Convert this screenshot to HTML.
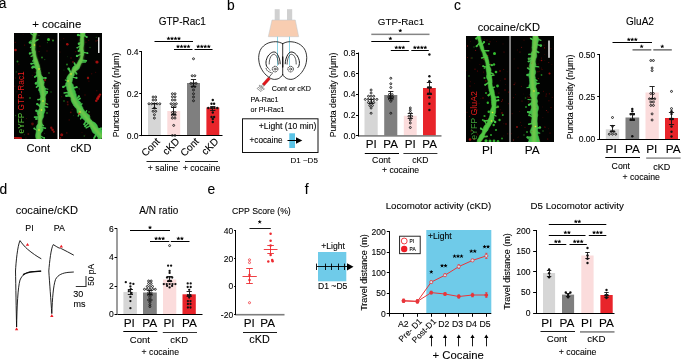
<!DOCTYPE html>
<html><head><meta charset="utf-8"><title>figure</title>
<style>html,body{margin:0;padding:0;background:#fff;}svg{display:block;font-family:"Liberation Sans",sans-serif;}</style></head><body>
<svg width="685" height="360" viewBox="0 0 685 360">
<defs><filter id="b1" x="-20%" y="-20%" width="140%" height="140%"><feGaussianBlur stdDeviation="0.7"/></filter><filter id="b2" x="-50%" y="-50%" width="200%" height="200%"><feGaussianBlur stdDeviation="0.9"/></filter><filter id="b3" x="-50%" y="-50%" width="200%" height="200%"><feGaussianBlur stdDeviation="0.55"/></filter><clipPath id="ca1"><rect x="14" y="33" width="43.5" height="106"/></clipPath><clipPath id="ca2"><rect x="59" y="33" width="43" height="106"/></clipPath><clipPath id="cc1"><rect x="466" y="36" width="43.5" height="106"/></clipPath><clipPath id="cc2"><rect x="510.5" y="36" width="43.5" height="106"/></clipPath></defs>
<rect width="685" height="360" fill="#fff"/>
<g opacity="0.999">
<text x="-1.3" y="7.8" font-size="13.8" text-anchor="start" fill="#000" stroke="#000" stroke-width="0.1">a</text>
<text x="227.1" y="9.6" font-size="13.8" text-anchor="start" fill="#000" stroke="#000" stroke-width="0.1">b</text>
<text x="453.9" y="9.6" font-size="13.8" text-anchor="start" fill="#000" stroke="#000" stroke-width="0.1">c</text>
<text x="-0.6" y="194" font-size="13.8" text-anchor="start" fill="#000" stroke="#000" stroke-width="0.1">d</text>
<text x="207.4" y="194" font-size="13.8" text-anchor="start" fill="#000" stroke="#000" stroke-width="0.1">e</text>
<text x="304.8" y="194" font-size="13.8" text-anchor="start" fill="#000" stroke="#000" stroke-width="0.1">f</text>
<text x="56.7" y="28" font-size="11.4" text-anchor="middle" fill="#000" stroke="#000" stroke-width="0.1">+ cocaine</text>
<rect x="14" y="33" width="43.5" height="106" fill="#020302" stroke="none" stroke-width="1"/>
<rect x="59" y="33" width="43" height="106" fill="#020302" stroke="none" stroke-width="1"/>
<g clip-path="url(#ca1)">
<g filter="url(#b1)">
<path d="M34.5,31.8 L34.0,32.8 L33.5,33.7 L33.3,34.7 L33.3,35.8 L33.2,36.8 L33.1,37.8 L32.8,38.9 L32.5,39.9 L32.3,40.9 L32.0,41.8 L31.8,42.9 L31.6,43.9 L31.8,45.0 L31.9,46.0 L32.1,47.1 L31.9,48.1 L31.8,49.1 L31.8,50.2 L32.1,51.2 L32.4,52.2 L32.7,53.2 L32.8,54.3 L33.1,55.3 L33.3,56.3 L33.6,57.3 L33.6,58.4 L33.5,59.5 L33.5,60.6 L33.6,61.7 L33.8,62.7 L34.1,63.7 L34.6,64.6 L34.8,65.6 L35.0,66.6 L35.0,67.6 L35.6,68.5 L36.4,69.3 L36.8,70.3 L36.7,71.3 L36.2,72.4 L36.3,73.4 L36.5,74.4 L37.0,75.4 L37.2,76.5 L37.5,77.5 L37.6,78.6 L37.4,79.8 L37.3,80.9 L37.1,82.0 L37.2,83.0 L37.2,84.1 L37.4,85.1 L38.0,85.9 L38.7,86.7 L39.1,87.6 L38.9,88.5 L38.6,89.5 L38.6,90.4 L39.3,91.3 L39.7,92.3 L40.1,93.2 L40.1,94.2 L40.5,95.1 L40.8,96.1 L40.7,97.1 L40.3,98.1 L40.0,99.0 L40.3,99.9 L40.5,100.8 L40.9,101.7 L40.7,102.6 L40.3,103.6 L39.7,104.5 L39.4,105.4 L39.7,106.5 L39.7,107.5 L39.6,108.6 L38.8,109.5 L38.3,110.5 L37.5,111.5 L37.1,112.5 L37.2,113.6 L37.5,114.7 L38.1,115.8 L38.5,116.9 L38.7,117.9 L38.8,118.9 L38.5,119.9 L38.3,120.9 L38.2,121.9 L38.2,122.9 L38.1,123.8 L37.4,124.7 L36.8,125.6 L36.3,126.5 L36.3,127.6 L36.5,128.6 L36.6,129.7 L36.5,130.7 L36.2,131.7 L36.1,132.8 L35.9,133.8 L35.7,134.8 L35.6,135.8 L35.7,136.8 L35.9,137.8 L36.3,138.8 L36.9,139.9 L42.3,140.3 L41.5,139.2 L41.0,138.2 L40.8,137.2 L40.7,136.2 L40.6,135.1 L40.7,134.2 L40.9,133.2 L41.6,132.3 L42.3,131.4 L42.9,130.5 L43.1,129.5 L42.8,128.5 L42.6,127.4 L42.2,126.3 L42.3,125.3 L42.1,124.2 L42.1,123.2 L41.7,122.1 L41.7,121.1 L41.9,120.1 L42.3,119.1 L42.9,118.2 L43.4,117.2 L43.7,116.3 L43.7,115.3 L43.7,114.3 L44.0,113.4 L44.4,112.6 L44.6,111.7 L45.1,110.8 L45.1,109.8 L44.8,108.7 L44.3,107.5 L44.3,106.5 L44.8,105.5 L45.1,104.5 L45.2,103.4 L45.1,102.3 L45.3,101.2 L45.4,100.1 L45.5,99.0 L45.2,98.0 L45.1,96.9 L45.4,95.9 L46.0,94.9 L46.2,93.8 L45.9,92.8 L45.3,91.8 L45.3,90.7 L45.5,89.7 L45.5,88.6 L44.9,87.6 L44.3,86.6 L43.7,85.6 L43.8,84.5 L44.0,83.3 L44.3,82.2 L43.8,81.2 L43.3,80.3 L42.8,79.3 L42.9,78.2 L42.7,77.2 L42.4,76.3 L41.5,75.5 L41.1,74.6 L40.8,73.7 L40.8,72.7 L40.5,71.7 L40.3,70.7 L40.0,69.7 L40.0,68.6 L39.7,67.6 L39.6,66.6 L39.3,65.5 L39.0,64.5 L38.5,63.5 L38.2,62.5 L37.9,61.5 L37.5,60.6 L37.2,59.6 L36.8,58.6 L36.4,57.7 L36.1,56.7 L35.9,55.7 L35.7,54.7 L35.5,53.8 L35.5,52.8 L35.5,51.8 L35.1,50.8 L34.7,49.9 L34.6,48.9 L34.8,47.9 L35.0,46.9 L34.9,46.0 L34.9,45.0 L34.8,44.1 L34.8,43.1 L34.8,42.1 L35.0,41.1 L35.0,40.1 L35.1,39.2 L35.1,38.2 L35.3,37.2 L35.5,36.2 L35.9,35.3 L36.3,34.3 L36.5,33.3 L36.2,32.2Z" fill="#41BE49" stroke="#41BE49" stroke-width="0.6" stroke-linejoin="round"/>
<line x1="34.9" y1="34.0" x2="32.0" y2="31.8" stroke="#41BE49" stroke-width="1.4" stroke-linecap="round"/>
<line x1="34.4" y1="36.0" x2="30.8" y2="33.6" stroke="#41BE49" stroke-width="1.2" stroke-linecap="round"/>
<line x1="33.6" y1="42.0" x2="38.0" y2="39.6" stroke="#41BE49" stroke-width="1.5" stroke-linecap="round"/>
<line x1="33.5" y1="43.0" x2="29.9" y2="42.6" stroke="#41BE49" stroke-width="1.4" stroke-linecap="round"/>
<circle cx="29.9" cy="42.6" r="1.23" fill="#41BE49"/>
<line x1="33.4" y1="46.0" x2="30.4" y2="47.5" stroke="#41BE49" stroke-width="1.1" stroke-linecap="round"/>
<line x1="33.9" y1="52.0" x2="29.9" y2="53.5" stroke="#41BE49" stroke-width="1.3" stroke-linecap="round"/>
<circle cx="29.9" cy="53.5" r="1.16" fill="#41BE49"/>
<line x1="34.4" y1="55.0" x2="31.1" y2="56.4" stroke="#41BE49" stroke-width="1.2" stroke-linecap="round"/>
<line x1="35.4" y1="59.0" x2="32.7" y2="61.1" stroke="#41BE49" stroke-width="1.4" stroke-linecap="round"/>
<line x1="36.6" y1="63.0" x2="31.3" y2="63.7" stroke="#41BE49" stroke-width="1.4" stroke-linecap="round"/>
<circle cx="31.3" cy="63.7" r="1.07" fill="#41BE49"/>
<line x1="37.5" y1="66.0" x2="32.4" y2="67.5" stroke="#41BE49" stroke-width="1.3" stroke-linecap="round"/>
<circle cx="32.4" cy="67.5" r="1.18" fill="#41BE49"/>
<line x1="37.9" y1="68.0" x2="33.3" y2="66.8" stroke="#41BE49" stroke-width="1.8" stroke-linecap="round"/>
<circle cx="33.3" cy="66.8" r="1.29" fill="#41BE49"/>
<line x1="39.0" y1="74.0" x2="34.8" y2="77.0" stroke="#41BE49" stroke-width="1.7" stroke-linecap="round"/>
<line x1="39.9" y1="78.0" x2="45.6" y2="78.1" stroke="#41BE49" stroke-width="1.5" stroke-linecap="round"/>
<circle cx="45.6" cy="78.1" r="1.12" fill="#41BE49"/>
<line x1="40.1" y1="79.0" x2="36.0" y2="83.4" stroke="#41BE49" stroke-width="1.2" stroke-linecap="round"/>
<circle cx="36.0" cy="83.4" r="1.28" fill="#41BE49"/>
<line x1="41.3" y1="83.0" x2="36.5" y2="87.1" stroke="#41BE49" stroke-width="1.7" stroke-linecap="round"/>
<line x1="42.4" y1="88.0" x2="47.9" y2="89.2" stroke="#41BE49" stroke-width="1.1" stroke-linecap="round"/>
<line x1="42.7" y1="91.0" x2="47.1" y2="91.9" stroke="#41BE49" stroke-width="1.8" stroke-linecap="round"/>
<circle cx="47.1" cy="91.9" r="0.98" fill="#41BE49"/>
<line x1="43.0" y1="95.0" x2="47.4" y2="93.0" stroke="#41BE49" stroke-width="1.3" stroke-linecap="round"/>
<line x1="43.1" y1="99.0" x2="38.1" y2="99.6" stroke="#41BE49" stroke-width="1.3" stroke-linecap="round"/>
<circle cx="38.1" cy="99.6" r="0.85" fill="#41BE49"/>
<line x1="43.0" y1="102.0" x2="47.7" y2="104.2" stroke="#41BE49" stroke-width="1.2" stroke-linecap="round"/>
<line x1="42.2" y1="106.0" x2="47.5" y2="107.0" stroke="#41BE49" stroke-width="1.6" stroke-linecap="round"/>
<line x1="41.8" y1="108.0" x2="37.3" y2="104.1" stroke="#41BE49" stroke-width="1.5" stroke-linecap="round"/>
<circle cx="37.3" cy="104.1" r="1.20" fill="#41BE49"/>
<line x1="40.9" y1="112.0" x2="36.4" y2="110.8" stroke="#41BE49" stroke-width="1.3" stroke-linecap="round"/>
<circle cx="36.4" cy="110.8" r="1.18" fill="#41BE49"/>
<line x1="40.4" y1="117.0" x2="34.6" y2="117.2" stroke="#41BE49" stroke-width="1.7" stroke-linecap="round"/>
<line x1="40.3" y1="119.0" x2="36.1" y2="118.9" stroke="#41BE49" stroke-width="1.4" stroke-linecap="round"/>
<circle cx="36.1" cy="118.9" r="1.00" fill="#41BE49"/>
<line x1="40.0" y1="123.0" x2="43.5" y2="125.7" stroke="#41BE49" stroke-width="1.4" stroke-linecap="round"/>
<line x1="39.6" y1="127.0" x2="45.5" y2="128.2" stroke="#41BE49" stroke-width="1.4" stroke-linecap="round"/>
<line x1="38.9" y1="132.0" x2="34.3" y2="128.5" stroke="#41BE49" stroke-width="1.4" stroke-linecap="round"/>
<circle cx="34.3" cy="128.5" r="0.93" fill="#41BE49"/>
<line x1="38.7" y1="135.0" x2="44.2" y2="138.0" stroke="#41BE49" stroke-width="1.3" stroke-linecap="round"/>
<circle cx="44.2" cy="138.0" r="0.94" fill="#41BE49"/>
<line x1="38.5" y1="137.0" x2="43.7" y2="140.2" stroke="#41BE49" stroke-width="1.3" stroke-linecap="round"/>
</g>
<path d="M35.3,32.0 L34.9,34.0 L34.4,36.0 L34.1,38.0 L33.8,40.0 L33.6,42.0 L33.4,44.0 L33.4,46.0 L33.5,48.0 L33.6,50.0 L33.9,52.0 L34.2,54.0 L34.6,56.0 L35.1,58.0 L35.7,60.0 L36.3,62.0 L36.9,64.0 L37.5,66.0 L37.9,68.0 L38.3,70.0 L38.7,72.0 L39.0,74.0 L39.4,76.0 L39.9,78.0 L40.4,80.0 L41.0,82.0 L41.5,84.0 L42.0,86.0 L42.4,88.0 L42.6,90.0 L42.8,92.0 L43.0,94.0 L43.1,96.0 L43.1,98.0 L43.1,100.0 L43.0,102.0 L42.6,104.0 L42.2,106.0 L41.8,108.0 L41.3,110.0 L40.9,112.0 L40.6,114.0 L40.5,116.0 L40.3,118.0 L40.2,120.0 L40.1,122.0 L40.0,124.0 L39.7,126.0 L39.4,128.0 L39.2,130.0 L38.9,132.0 L38.8,134.0 L38.6,136.0 L38.5,138.0 L38.3,140.0" fill="none" stroke="#76C84C" stroke-width="2.9" stroke-linecap="round" opacity="0.95" filter="url(#b2)"/>
<g filter="url(#b1)">
<circle cx="48.5" cy="39.5" r="1.5" fill="#35C932" opacity="0.9"/>
<circle cx="53" cy="40.5" r="1.0" fill="#35C932" opacity="0.7"/>
<circle cx="31" cy="41" r="1.0" fill="#35C932" opacity="0.6"/>
<circle cx="17.5" cy="61.5" r="1.0" fill="#35C932" opacity="0.6"/>
<circle cx="42" cy="57.5" r="1.0" fill="#35C932" opacity="0.6"/>
<circle cx="49" cy="73" r="0.9" fill="#35C932" opacity="0.5"/>
<circle cx="30" cy="98" r="1.0" fill="#35C932" opacity="0.5"/>
<circle cx="47" cy="113" r="0.9" fill="#35C932" opacity="0.5"/>
<circle cx="51" cy="92" r="0.8" fill="#35C932" opacity="0.4"/>
<circle cx="44.5" cy="133.3" r="0.49" fill="#35C932" opacity="0.4"/>
<circle cx="16.3" cy="71.9" r="0.67" fill="#35C932" opacity="0.4"/>
<circle cx="47.4" cy="42.6" r="0.54" fill="#35C932" opacity="0.47"/>
<circle cx="39.3" cy="80.9" r="0.56" fill="#35C932" opacity="0.5"/>
<circle cx="38.9" cy="35.4" r="0.72" fill="#35C932" opacity="0.33"/>
<circle cx="32.9" cy="55.9" r="0.58" fill="#35C932" opacity="0.33"/>
<circle cx="18.3" cy="99.6" r="0.44" fill="#35C932" opacity="0.45"/>
<circle cx="15.6" cy="115.5" r="0.72" fill="#35C932" opacity="0.37"/>
<circle cx="44.7" cy="59.6" r="0.7" fill="#35C932" opacity="0.36"/>
<circle cx="24.3" cy="134.7" r="0.56" fill="#35C932" opacity="0.34"/>
</g>
<g filter="url(#b3)">
<circle cx="15.5" cy="50" r="1.3" fill="#E01515" opacity="0.72"/>
<circle cx="45" cy="80" r="1.2" fill="#E01515" opacity="0.48"/>
<circle cx="32.5" cy="124" r="1.4" fill="#E01515" opacity="0.40"/>
<circle cx="51.3" cy="127.8" r="1.2" fill="#E01515" opacity="0.56"/>
<circle cx="52.6" cy="129.8" r="1.3" fill="#E01515" opacity="0.64"/>
<circle cx="53.8" cy="131.8" r="1.1" fill="#E01515" opacity="0.56"/>
<line x1="14.5" y1="137.6" x2="21" y2="138.3" stroke="#E01515" stroke-width="2.2" stroke-linecap="round" opacity="0.80" filter="url(#b1)"/>
<circle cx="28.3" cy="134" r="1.0" fill="#E01515" opacity="0.32"/>
<circle cx="45.8" cy="104" r="0.9" fill="#E01515" opacity="0.32"/>
<circle cx="21" cy="98" r="0.9" fill="#E01515" opacity="0.28"/>
<circle cx="47" cy="51" r="0.8" fill="#E01515" opacity="0.24"/>
<circle cx="24" cy="78" r="0.8" fill="#E01515" opacity="0.24"/>
<circle cx="34.2" cy="72.7" r="0.46" fill="#E01515" opacity="0.38"/>
<circle cx="14.8" cy="86.3" r="0.76" fill="#E01515" opacity="0.22"/>
<circle cx="38.1" cy="98.2" r="0.42" fill="#E01515" opacity="0.27"/>
<circle cx="44.4" cy="81.0" r="0.69" fill="#E01515" opacity="0.23"/>
<circle cx="24.6" cy="45.1" r="0.6" fill="#E01515" opacity="0.38"/>
<circle cx="39.6" cy="114.8" r="0.55" fill="#E01515" opacity="0.35"/>
<circle cx="18.8" cy="64.1" r="0.67" fill="#E01515" opacity="0.34"/>
<circle cx="32.4" cy="42.7" r="0.51" fill="#E01515" opacity="0.24"/>
<circle cx="26.5" cy="118.5" r="0.48" fill="#E01515" opacity="0.38"/>
<circle cx="51.9" cy="39.3" r="0.55" fill="#E01515" opacity="0.30"/>
<circle cx="15.5" cy="78.1" r="0.76" fill="#E01515" opacity="0.22"/>
<circle cx="39.9" cy="46.2" r="0.63" fill="#E01515" opacity="0.38"/>
<circle cx="23.1" cy="34.4" r="0.43" fill="#E01515" opacity="0.30"/>
<circle cx="15.2" cy="42.4" r="0.6" fill="#E01515" opacity="0.38"/>
<circle cx="32.4" cy="75.3" r="0.66" fill="#E01515" opacity="0.22"/>
<circle cx="39.1" cy="51.6" r="0.64" fill="#E01515" opacity="0.39"/>
<circle cx="16.8" cy="91.8" r="0.64" fill="#E01515" opacity="0.23"/>
<circle cx="25.9" cy="138.0" r="0.8" fill="#E01515" opacity="0.22"/>
</g>
<circle cx="34.5" cy="45" r="0.8" fill="#E8E830" filter="url(#b1)"/>
<circle cx="39" cy="69" r="0.8" fill="#E8E830" filter="url(#b1)"/>
<circle cx="43" cy="101" r="0.8" fill="#E8E830" filter="url(#b1)"/>
<circle cx="41.5" cy="110" r="0.8" fill="#E8E830" filter="url(#b1)"/>
<circle cx="39" cy="130" r="0.8" fill="#E8E830" filter="url(#b1)"/>
</g>
<g clip-path="url(#ca2)">
<g filter="url(#b1)">
<path d="M81.1,31.9 L80.7,32.8 L80.4,33.8 L80.5,34.8 L80.6,35.9 L80.7,36.9 L80.7,37.9 L80.4,38.9 L80.3,39.9 L80.3,40.9 L80.6,41.9 L80.7,42.9 L80.5,43.9 L80.1,45.0 L80.0,46.0 L79.8,47.0 L79.5,48.0 L79.4,49.0 L79.5,50.0 L80.1,51.0 L80.6,52.0 L80.9,53.0 L80.9,54.0 L80.9,55.0 L80.9,55.9 L80.8,56.9 L80.5,57.8 L80.0,58.7 L79.5,59.5 L78.9,60.2 L78.5,61.1 L78.0,62.0 L77.6,62.9 L77.1,63.8 L76.4,64.6 L75.6,65.3 L74.4,65.9 L73.3,66.6 L72.6,67.7 L72.2,69.0 L71.9,70.2 L71.6,71.4 L70.9,72.4 L70.2,73.3 L69.1,74.1 L68.4,75.1 L67.6,76.0 L67.1,77.1 L66.7,78.1 L66.8,79.3 L67.0,80.5 L66.8,81.7 L66.0,82.9 L65.6,84.1 L65.7,85.3 L66.4,86.4 L66.7,87.5 L66.8,88.6 L67.0,89.7 L67.7,90.7 L68.1,91.7 L67.9,92.9 L67.6,94.2 L68.1,95.2 L69.4,96.0 L70.5,96.7 L71.0,97.7 L71.2,98.8 L71.1,100.1 L71.5,101.2 L71.9,102.3 L72.5,103.3 L73.1,104.3 L73.5,105.4 L74.4,106.2 L74.9,107.2 L75.9,107.8 L76.5,108.7 L76.9,109.6 L77.0,110.9 L77.1,112.2 L77.6,113.2 L78.5,113.9 L79.5,114.5 L80.4,115.1 L80.8,116.2 L81.5,117.1 L82.0,118.0 L83.0,118.7 L83.7,119.6 L84.7,120.3 L85.3,121.2 L86.1,122.1 L87.0,122.8 L88.1,123.4 L89.1,124.1 L89.7,125.1 L90.0,126.3 L90.5,127.4 L90.9,128.4 L91.5,129.5 L91.9,130.6 L92.3,131.7 L93.0,132.7 L93.8,133.5 L95.0,134.1 L96.0,134.7 L96.7,135.6 L97.1,136.7 L97.8,137.4 L98.8,137.8 L99.4,138.6 L99.3,140.2 L104.8,134.7 L103.7,134.4 L102.9,133.8 L102.5,132.7 L102.3,131.5 L102.1,130.3 L101.6,129.5 L100.7,129.1 L99.5,128.9 L98.4,128.4 L97.9,127.3 L97.4,126.3 L97.0,125.1 L96.4,124.2 L95.7,123.3 L94.7,122.6 L93.6,122.1 L92.6,121.4 L91.8,120.6 L90.9,119.8 L90.2,118.9 L89.8,117.7 L89.8,116.3 L89.4,115.2 L88.5,114.4 L87.5,113.8 L86.6,113.0 L85.8,112.3 L85.1,111.4 L84.2,110.7 L83.8,109.7 L83.1,108.9 L82.9,107.7 L82.3,106.9 L81.9,106.0 L81.4,105.2 L80.9,104.3 L80.8,103.2 L80.6,102.3 L80.0,101.6 L78.9,101.1 L77.8,100.6 L77.2,99.6 L76.9,98.6 L76.6,97.6 L76.4,96.5 L76.3,95.4 L76.2,94.4 L75.8,93.4 L75.4,92.5 L75.3,91.5 L74.9,90.6 L74.4,89.8 L73.8,88.9 L73.8,88.0 L73.6,87.1 L73.5,86.2 L73.3,85.4 L73.1,84.6 L72.4,83.9 L72.0,83.2 L71.7,82.3 L72.1,81.6 L72.2,80.7 L72.6,79.8 L72.4,78.7 L72.7,77.8 L72.9,76.9 L73.7,76.2 L74.1,75.4 L74.2,74.4 L74.0,73.1 L74.3,72.0 L75.1,71.2 L76.3,70.6 L77.4,70.0 L78.5,69.2 L79.2,68.3 L79.7,67.1 L80.0,65.9 L80.4,64.7 L81.0,63.6 L81.4,62.5 L81.8,61.4 L82.1,60.3 L82.4,59.2 L82.5,58.2 L82.7,57.1 L83.0,56.1 L83.5,55.1 L83.7,54.0 L83.9,53.0 L83.8,52.0 L83.6,51.0 L83.2,50.0 L83.0,49.0 L83.1,48.0 L83.1,47.0 L83.4,46.0 L83.5,45.0 L83.8,44.1 L83.7,43.1 L83.8,42.1 L83.7,41.1 L83.7,40.1 L83.4,39.1 L83.4,38.1 L83.7,37.1 L84.4,36.2 L84.7,35.2 L84.9,34.2 L85.1,33.2 L85.6,32.2Z" fill="#41BE49" stroke="#41BE49" stroke-width="0.6" stroke-linejoin="round"/>
<line x1="82.5" y1="34.0" x2="86.7" y2="37.0" stroke="#41BE49" stroke-width="1.3" stroke-linecap="round"/>
<circle cx="86.7" cy="37.0" r="1.05" fill="#41BE49"/>
<line x1="82.4" y1="36.0" x2="78.1" y2="35.0" stroke="#41BE49" stroke-width="1.4" stroke-linecap="round"/>
<circle cx="78.1" cy="35.0" r="1.26" fill="#41BE49"/>
<line x1="82.0" y1="42.0" x2="78.9" y2="43.7" stroke="#41BE49" stroke-width="1.7" stroke-linecap="round"/>
<circle cx="78.9" cy="43.7" r="1.19" fill="#41BE49"/>
<line x1="81.8" y1="45.0" x2="77.2" y2="47.8" stroke="#41BE49" stroke-width="1.2" stroke-linecap="round"/>
<circle cx="77.2" cy="47.8" r="0.81" fill="#41BE49"/>
<line x1="81.8" y1="49.0" x2="78.7" y2="50.9" stroke="#41BE49" stroke-width="1.5" stroke-linecap="round"/>
<circle cx="78.7" cy="50.9" r="1.15" fill="#41BE49"/>
<line x1="81.8" y1="52.0" x2="87.5" y2="53.2" stroke="#41BE49" stroke-width="1.2" stroke-linecap="round"/>
<circle cx="87.5" cy="53.2" r="0.90" fill="#41BE49"/>
<line x1="81.9" y1="54.0" x2="77.0" y2="55.9" stroke="#41BE49" stroke-width="1.3" stroke-linecap="round"/>
<circle cx="77.0" cy="55.9" r="1.18" fill="#41BE49"/>
<line x1="81.1" y1="60.0" x2="86.3" y2="60.9" stroke="#41BE49" stroke-width="1.7" stroke-linecap="round"/>
<line x1="80.3" y1="62.0" x2="85.5" y2="62.0" stroke="#41BE49" stroke-width="1.4" stroke-linecap="round"/>
<line x1="76.4" y1="67.6" x2="74.4" y2="63.1" stroke="#41BE49" stroke-width="1.7" stroke-linecap="round"/>
<line x1="74.1" y1="70.4" x2="76.6" y2="73.8" stroke="#41BE49" stroke-width="1.7" stroke-linecap="round"/>
<line x1="71.6" y1="74.1" x2="68.6" y2="68.7" stroke="#41BE49" stroke-width="1.8" stroke-linecap="round"/>
<circle cx="68.6" cy="68.7" r="1.23" fill="#41BE49"/>
<line x1="70.4" y1="77.0" x2="76.5" y2="77.9" stroke="#41BE49" stroke-width="1.2" stroke-linecap="round"/>
<circle cx="76.5" cy="77.9" r="1.10" fill="#41BE49"/>
<line x1="69.1" y1="82.0" x2="65.3" y2="79.9" stroke="#41BE49" stroke-width="1.1" stroke-linecap="round"/>
<line x1="69.0" y1="84.0" x2="63.3" y2="86.9" stroke="#41BE49" stroke-width="1.2" stroke-linecap="round"/>
<circle cx="63.3" cy="86.9" r="1.20" fill="#41BE49"/>
<line x1="69.8" y1="89.0" x2="76.7" y2="87.2" stroke="#41BE49" stroke-width="1.8" stroke-linecap="round"/>
<circle cx="76.7" cy="87.2" r="0.92" fill="#41BE49"/>
<line x1="70.7" y1="92.0" x2="64.1" y2="93.0" stroke="#41BE49" stroke-width="1.5" stroke-linecap="round"/>
<line x1="72.2" y1="96.0" x2="66.4" y2="95.8" stroke="#41BE49" stroke-width="1.7" stroke-linecap="round"/>
<circle cx="66.4" cy="95.8" r="1.27" fill="#41BE49"/>
<line x1="74.5" y1="101.0" x2="78.8" y2="96.4" stroke="#41BE49" stroke-width="1.5" stroke-linecap="round"/>
<circle cx="78.8" cy="96.4" r="1.13" fill="#41BE49"/>
<line x1="75.0" y1="102.0" x2="80.1" y2="98.5" stroke="#41BE49" stroke-width="1.7" stroke-linecap="round"/>
<line x1="77.8" y1="106.5" x2="82.0" y2="103.8" stroke="#41BE49" stroke-width="1.4" stroke-linecap="round"/>
<line x1="80.8" y1="110.7" x2="78.2" y2="116.1" stroke="#41BE49" stroke-width="1.4" stroke-linecap="round"/>
<line x1="83.5" y1="114.0" x2="80.6" y2="118.9" stroke="#41BE49" stroke-width="1.5" stroke-linecap="round"/>
<line x1="84.2" y1="114.9" x2="86.7" y2="110.7" stroke="#41BE49" stroke-width="1.3" stroke-linecap="round"/>
<line x1="87.0" y1="118.5" x2="84.3" y2="124.3" stroke="#41BE49" stroke-width="1.6" stroke-linecap="round"/>
<circle cx="84.3" cy="124.3" r="1.08" fill="#41BE49"/>
<line x1="89.8" y1="122.1" x2="85.2" y2="126.3" stroke="#41BE49" stroke-width="1.4" stroke-linecap="round"/>
<circle cx="85.2" cy="126.3" r="1.09" fill="#41BE49"/>
<line x1="91.9" y1="124.8" x2="86.2" y2="127.9" stroke="#41BE49" stroke-width="1.5" stroke-linecap="round"/>
<line x1="96.1" y1="130.2" x2="101.1" y2="128.2" stroke="#41BE49" stroke-width="1.7" stroke-linecap="round"/>
<line x1="97.5" y1="131.9" x2="94.0" y2="138.2" stroke="#41BE49" stroke-width="1.8" stroke-linecap="round"/>
<line x1="100.4" y1="134.9" x2="97.1" y2="140.8" stroke="#41BE49" stroke-width="1.2" stroke-linecap="round"/>
</g>
<path d="M82.7,32.0 L82.5,34.0 L82.4,36.0 L82.2,38.0 L82.1,40.0 L82.0,42.0 L81.9,44.0 L81.8,46.0 L81.8,48.0 L81.8,50.0 L81.8,52.0 L81.9,54.0 L81.8,56.0 L81.5,58.0 L81.1,60.0 L80.3,62.0 L79.2,63.9 L77.9,65.8 L76.4,67.6 L74.9,69.5 L73.4,71.4 L72.2,73.1 L71.2,75.0 L70.4,77.0 L69.8,79.0 L69.3,81.0 L69.0,83.0 L69.1,85.0 L69.4,87.0 L69.8,89.0 L70.4,91.0 L71.0,93.0 L71.8,95.0 L72.6,97.0 L73.5,99.0 L74.5,101.0 L75.5,103.0 L76.6,104.8 L77.8,106.5 L78.9,108.2 L80.2,109.8 L81.5,111.5 L82.8,113.2 L84.2,114.9 L85.6,116.7 L87.0,118.5 L88.4,120.3 L89.8,122.1 L91.2,123.9 L92.6,125.7 L94.0,127.5 L95.4,129.3 L96.8,131.1 L98.2,132.7 L99.6,134.1 L101.1,135.6 L102.5,137.0" fill="none" stroke="#76C84C" stroke-width="3.0" stroke-linecap="round" opacity="0.95" filter="url(#b2)"/>
<g filter="url(#b1)">
<circle cx="67" cy="64.5" r="1.0" fill="#35C932" opacity="0.6"/>
<circle cx="90" cy="47.5" r="0.8" fill="#35C932" opacity="0.4"/>
<circle cx="75" cy="74" r="0.8" fill="#35C932" opacity="0.4"/>
<circle cx="64" cy="101" r="0.9" fill="#35C932" opacity="0.4"/>
<circle cx="89" cy="112" r="0.9" fill="#35C932" opacity="0.5"/>
<circle cx="96.3" cy="37.3" r="0.64" fill="#35C932" opacity="0.4"/>
<circle cx="88.0" cy="76.2" r="0.43" fill="#35C932" opacity="0.3"/>
<circle cx="85.0" cy="52.5" r="0.43" fill="#35C932" opacity="0.34"/>
<circle cx="79.3" cy="89.7" r="0.41" fill="#35C932" opacity="0.44"/>
<circle cx="73.5" cy="115.7" r="0.4" fill="#35C932" opacity="0.49"/>
<circle cx="84.3" cy="136.0" r="0.79" fill="#35C932" opacity="0.46"/>
<circle cx="64.0" cy="70.1" r="0.49" fill="#35C932" opacity="0.44"/>
<circle cx="67.6" cy="56.7" r="0.44" fill="#35C932" opacity="0.28"/>
<circle cx="98.9" cy="136.0" r="0.55" fill="#35C932" opacity="0.44"/>
<circle cx="79.1" cy="88.3" r="0.55" fill="#35C932" opacity="0.41"/>
</g>
<g filter="url(#b3)">
<circle cx="67.3" cy="44.3" r="1.3" fill="#E01515" opacity="0.72"/>
<circle cx="97" cy="62" r="1.6" fill="#E01515" opacity="0.72"/>
<circle cx="88" cy="78" r="1.2" fill="#E01515" opacity="0.64"/>
<circle cx="73" cy="62" r="1.0" fill="#E01515" opacity="0.40"/>
<circle cx="71" cy="58" r="0.8" fill="#E01515" opacity="0.32"/>
<circle cx="96.3" cy="100.8" r="1.3" fill="#E01515" opacity="0.72"/>
<circle cx="97.6" cy="98.6" r="1.5" fill="#E01515" opacity="0.80"/>
<circle cx="98.8" cy="96.6" r="1.4" fill="#E01515" opacity="0.80"/>
<circle cx="100" cy="94.6" r="1.2" fill="#E01515" opacity="0.72"/>
<circle cx="67.6" cy="102" r="1.0" fill="#E01515" opacity="0.32"/>
<circle cx="67.8" cy="104.5" r="1.0" fill="#E01515" opacity="0.32"/>
<circle cx="70.8" cy="112.3" r="0.9" fill="#E01515" opacity="0.40"/>
<circle cx="79.2" cy="113.6" r="1.1" fill="#E01515" opacity="0.72"/>
<circle cx="61.7" cy="134.8" r="1.5" fill="#E01515" opacity="0.64"/>
<circle cx="60.3" cy="138" r="1.0" fill="#E01515" opacity="0.48"/>
<circle cx="96" cy="41" r="0.8" fill="#E01515" opacity="0.32"/>
<circle cx="85" cy="95" r="0.8" fill="#E01515" opacity="0.24"/>
<circle cx="95.6" cy="72.3" r="0.67" fill="#E01515" opacity="0.23"/>
<circle cx="94.9" cy="60.7" r="0.42" fill="#E01515" opacity="0.39"/>
<circle cx="66.8" cy="132.9" r="0.79" fill="#E01515" opacity="0.32"/>
<circle cx="60.0" cy="39.9" r="0.48" fill="#E01515" opacity="0.28"/>
<circle cx="85.2" cy="135.0" r="0.54" fill="#E01515" opacity="0.23"/>
<circle cx="83.1" cy="47.9" r="0.43" fill="#E01515" opacity="0.31"/>
<circle cx="88.7" cy="40.4" r="0.58" fill="#E01515" opacity="0.34"/>
<circle cx="91.6" cy="73.7" r="0.75" fill="#E01515" opacity="0.23"/>
<circle cx="89.5" cy="114.5" r="0.75" fill="#E01515" opacity="0.30"/>
<circle cx="63.7" cy="38.6" r="0.61" fill="#E01515" opacity="0.23"/>
<circle cx="85.9" cy="42.3" r="0.71" fill="#E01515" opacity="0.25"/>
<circle cx="60.0" cy="52.0" r="0.58" fill="#E01515" opacity="0.31"/>
<circle cx="75.8" cy="51.7" r="0.59" fill="#E01515" opacity="0.39"/>
<circle cx="82.0" cy="132.3" r="0.41" fill="#E01515" opacity="0.40"/>
<circle cx="96.8" cy="90.7" r="0.61" fill="#E01515" opacity="0.30"/>
<circle cx="97.7" cy="40.4" r="0.66" fill="#E01515" opacity="0.31"/>
<circle cx="72.1" cy="109.6" r="0.69" fill="#E01515" opacity="0.22"/>
<circle cx="88.9" cy="81.1" r="0.6" fill="#E01515" opacity="0.33"/>
<circle cx="61.7" cy="96.8" r="0.55" fill="#E01515" opacity="0.38"/>
<circle cx="69.2" cy="119.9" r="0.69" fill="#E01515" opacity="0.33"/>
</g>
<circle cx="71" cy="74" r="0.8" fill="#E8E830" filter="url(#b1)"/>
<circle cx="68" cy="81" r="0.8" fill="#E8E830" filter="url(#b1)"/>
<circle cx="80" cy="112" r="0.8" fill="#E8E830" filter="url(#b1)"/>
</g>
<rect x="98.1" y="37.3" width="1.35" height="15.7" fill="#fff" stroke="none" stroke-width="1"/>
<text transform="translate(23.7 133.4) rotate(-90)" font-size="8.3"><tspan fill="#5CC83F">eYFP</tspan><tspan fill="#EE1C1C"> GTP-Rac1</tspan></text>
<text x="38.3" y="152" font-size="11.1" text-anchor="middle" fill="#000" stroke="#000" stroke-width="0.1">Cont</text>
<text x="81" y="152" font-size="11.1" text-anchor="middle" fill="#000" stroke="#000" stroke-width="0.1">cKD</text>
<text x="182.3" y="25" font-size="10" text-anchor="middle" fill="#000" stroke="#000" stroke-width="0.1">GTP-Rac1</text>
<rect x="148" y="104.5" width="12.800000000000011" height="31.099999999999994" fill="#D6D6D6" stroke="none" stroke-width="1"/>
<rect x="167.3" y="111" width="12.899999999999977" height="24.599999999999994" fill="#FBDCDC" stroke="none" stroke-width="1"/>
<rect x="187" y="83" width="13" height="52.599999999999994" fill="#7F7F7F" stroke="none" stroke-width="1"/>
<rect x="206.4" y="107.5" width="12.900000000000006" height="28.099999999999994" fill="#E8242A" stroke="none" stroke-width="1"/>
<line x1="141.2" y1="135.5" x2="222.5" y2="135.5" stroke="#000" stroke-width="1"/>
<line x1="141.5" y1="136.1" x2="141.5" y2="51.0" stroke="#000" stroke-width="1"/>
<line x1="139.2" y1="51.5" x2="141.7" y2="51.5" stroke="#000" stroke-width="1"/>
<text x="138.6" y="54.5" font-size="8.55" text-anchor="end" fill="#000" stroke="#000" stroke-width="0.1">0.4</text>
<line x1="139.2" y1="93.5" x2="141.7" y2="93.5" stroke="#000" stroke-width="1"/>
<text x="138.6" y="96.5" font-size="8.55" text-anchor="end" fill="#000" stroke="#000" stroke-width="0.1">0.2</text>
<line x1="139.2" y1="135.5" x2="141.7" y2="135.5" stroke="#000" stroke-width="1"/>
<text x="138.6" y="138.6" font-size="8.55" text-anchor="end" fill="#000" stroke="#000" stroke-width="0.1">0.0</text>
<text x="119" y="95" font-size="8.7" text-anchor="middle" fill="#000" stroke="#000" stroke-width="0.1" transform="rotate(-90 119 95)">Puncta density (n/μm)</text>
<line x1="154.5" y1="41.5" x2="193" y2="41.5" stroke="#000" stroke-width="1.0"/>
<path d="M168.50,38.60L168.50,37.25M168.50,38.60L169.78,38.18M168.50,38.60L169.29,39.69M168.50,38.60L167.71,39.69M168.50,38.60L167.22,38.18" stroke="#000" stroke-width="0.85" stroke-linecap="round" fill="none"/>
<circle cx="168.50" cy="38.60" r="0.75" fill="#000" stroke="none" stroke-width="0.6"/>
<path d="M172.00,38.60L172.00,37.25M172.00,38.60L173.28,38.18M172.00,38.60L172.79,39.69M172.00,38.60L171.21,39.69M172.00,38.60L170.72,38.18" stroke="#000" stroke-width="0.85" stroke-linecap="round" fill="none"/>
<circle cx="172.00" cy="38.60" r="0.75" fill="#000" stroke="none" stroke-width="0.6"/>
<path d="M175.50,38.60L175.50,37.25M175.50,38.60L176.78,38.18M175.50,38.60L176.29,39.69M175.50,38.60L174.71,39.69M175.50,38.60L174.22,38.18" stroke="#000" stroke-width="0.85" stroke-linecap="round" fill="none"/>
<circle cx="175.50" cy="38.60" r="0.75" fill="#000" stroke="none" stroke-width="0.6"/>
<path d="M179.00,38.60L179.00,37.25M179.00,38.60L180.28,38.18M179.00,38.60L179.79,39.69M179.00,38.60L178.21,39.69M179.00,38.60L177.72,38.18" stroke="#000" stroke-width="0.85" stroke-linecap="round" fill="none"/>
<circle cx="179.00" cy="38.60" r="0.75" fill="#000" stroke="none" stroke-width="0.6"/>
<line x1="174" y1="49.5" x2="192.5" y2="49.5" stroke="#000" stroke-width="1.0"/>
<path d="M178.00,46.60L178.00,45.25M178.00,46.60L179.28,46.18M178.00,46.60L178.79,47.69M178.00,46.60L177.21,47.69M178.00,46.60L176.72,46.18" stroke="#000" stroke-width="0.85" stroke-linecap="round" fill="none"/>
<circle cx="178.00" cy="46.60" r="0.75" fill="#000" stroke="none" stroke-width="0.6"/>
<path d="M181.50,46.60L181.50,45.25M181.50,46.60L182.78,46.18M181.50,46.60L182.29,47.69M181.50,46.60L180.71,47.69M181.50,46.60L180.22,46.18" stroke="#000" stroke-width="0.85" stroke-linecap="round" fill="none"/>
<circle cx="181.50" cy="46.60" r="0.75" fill="#000" stroke="none" stroke-width="0.6"/>
<path d="M185.00,46.60L185.00,45.25M185.00,46.60L186.28,46.18M185.00,46.60L185.79,47.69M185.00,46.60L184.21,47.69M185.00,46.60L183.72,46.18" stroke="#000" stroke-width="0.85" stroke-linecap="round" fill="none"/>
<circle cx="185.00" cy="46.60" r="0.75" fill="#000" stroke="none" stroke-width="0.6"/>
<path d="M188.50,46.60L188.50,45.25M188.50,46.60L189.78,46.18M188.50,46.60L189.29,47.69M188.50,46.60L187.71,47.69M188.50,46.60L187.22,46.18" stroke="#000" stroke-width="0.85" stroke-linecap="round" fill="none"/>
<circle cx="188.50" cy="46.60" r="0.75" fill="#000" stroke="none" stroke-width="0.6"/>
<line x1="194.5" y1="49.5" x2="212.5" y2="49.5" stroke="#000" stroke-width="1.0"/>
<path d="M198.25,46.60L198.25,45.25M198.25,46.60L199.53,46.18M198.25,46.60L199.04,47.69M198.25,46.60L197.46,47.69M198.25,46.60L196.97,46.18" stroke="#000" stroke-width="0.85" stroke-linecap="round" fill="none"/>
<circle cx="198.25" cy="46.60" r="0.75" fill="#000" stroke="none" stroke-width="0.6"/>
<path d="M201.75,46.60L201.75,45.25M201.75,46.60L203.03,46.18M201.75,46.60L202.54,47.69M201.75,46.60L200.96,47.69M201.75,46.60L200.47,46.18" stroke="#000" stroke-width="0.85" stroke-linecap="round" fill="none"/>
<circle cx="201.75" cy="46.60" r="0.75" fill="#000" stroke="none" stroke-width="0.6"/>
<path d="M205.25,46.60L205.25,45.25M205.25,46.60L206.53,46.18M205.25,46.60L206.04,47.69M205.25,46.60L204.46,47.69M205.25,46.60L203.97,46.18" stroke="#000" stroke-width="0.85" stroke-linecap="round" fill="none"/>
<circle cx="205.25" cy="46.60" r="0.75" fill="#000" stroke="none" stroke-width="0.6"/>
<path d="M208.75,46.60L208.75,45.25M208.75,46.60L210.03,46.18M208.75,46.60L209.54,47.69M208.75,46.60L207.96,47.69M208.75,46.60L207.47,46.18" stroke="#000" stroke-width="0.85" stroke-linecap="round" fill="none"/>
<circle cx="208.75" cy="46.60" r="0.75" fill="#000" stroke="none" stroke-width="0.6"/>
<line x1="154.5" y1="103.6" x2="154.5" y2="108.0" stroke="#111" stroke-width="0.9"/>
<line x1="151.8" y1="103.5" x2="157.0" y2="103.5" stroke="#111" stroke-width="0.9"/>
<line x1="151.8" y1="108.5" x2="157.0" y2="108.5" stroke="#111" stroke-width="0.9"/>
<circle cx="153.10" cy="97.00" r="0.98" fill="none" stroke="#111" stroke-width="0.85"/>
<circle cx="155.70" cy="97.00" r="0.98" fill="none" stroke="#111" stroke-width="0.85"/>
<circle cx="153.10" cy="100.00" r="0.98" fill="none" stroke="#111" stroke-width="0.85"/>
<circle cx="155.70" cy="100.00" r="0.98" fill="none" stroke="#111" stroke-width="0.85"/>
<circle cx="149.00" cy="103.75" r="0.98" fill="none" stroke="#111" stroke-width="0.85"/>
<circle cx="151.70" cy="103.75" r="0.98" fill="none" stroke="#111" stroke-width="0.85"/>
<circle cx="154.40" cy="103.75" r="0.98" fill="none" stroke="#111" stroke-width="0.85"/>
<circle cx="157.10" cy="103.75" r="0.98" fill="none" stroke="#111" stroke-width="0.85"/>
<circle cx="159.80" cy="103.75" r="0.98" fill="none" stroke="#111" stroke-width="0.85"/>
<circle cx="153.10" cy="111.30" r="0.98" fill="none" stroke="#111" stroke-width="0.85"/>
<circle cx="155.70" cy="111.30" r="0.98" fill="none" stroke="#111" stroke-width="0.85"/>
<circle cx="154.40" cy="108.00" r="0.98" fill="none" stroke="#111" stroke-width="0.85"/>
<circle cx="154.40" cy="114.70" r="0.98" fill="none" stroke="#111" stroke-width="0.85"/>
<circle cx="154.40" cy="118.10" r="0.98" fill="none" stroke="#111" stroke-width="0.85"/>
<line x1="173.5" y1="107.39999999999999" x2="173.5" y2="114.2" stroke="#111" stroke-width="0.9"/>
<line x1="171.1" y1="107.5" x2="176.29999999999998" y2="107.5" stroke="#111" stroke-width="0.9"/>
<line x1="171.1" y1="114.5" x2="176.29999999999998" y2="114.5" stroke="#111" stroke-width="0.9"/>
<circle cx="172.40" cy="93.75" r="0.98" fill="none" stroke="#111" stroke-width="0.85"/>
<circle cx="175.00" cy="93.75" r="0.98" fill="none" stroke="#111" stroke-width="0.85"/>
<circle cx="172.40" cy="96.75" r="0.98" fill="none" stroke="#111" stroke-width="0.85"/>
<circle cx="175.00" cy="96.75" r="0.98" fill="none" stroke="#111" stroke-width="0.85"/>
<circle cx="172.40" cy="100.00" r="0.98" fill="none" stroke="#111" stroke-width="0.85"/>
<circle cx="175.00" cy="100.00" r="0.98" fill="none" stroke="#111" stroke-width="0.85"/>
<circle cx="171.10" cy="103.75" r="0.98" fill="none" stroke="#111" stroke-width="0.85"/>
<circle cx="173.70" cy="103.75" r="0.98" fill="none" stroke="#111" stroke-width="0.85"/>
<circle cx="176.30" cy="103.75" r="0.98" fill="none" stroke="#111" stroke-width="0.85"/>
<circle cx="172.40" cy="106.50" r="0.98" fill="none" stroke="#111" stroke-width="0.85"/>
<circle cx="175.00" cy="106.50" r="0.98" fill="none" stroke="#111" stroke-width="0.85"/>
<circle cx="172.40" cy="112.50" r="0.98" fill="none" stroke="#111" stroke-width="0.85"/>
<circle cx="175.00" cy="112.50" r="0.98" fill="none" stroke="#111" stroke-width="0.85"/>
<circle cx="172.40" cy="115.20" r="0.98" fill="none" stroke="#111" stroke-width="0.85"/>
<circle cx="175.00" cy="115.20" r="0.98" fill="none" stroke="#111" stroke-width="0.85"/>
<circle cx="172.40" cy="118.10" r="0.98" fill="none" stroke="#111" stroke-width="0.85"/>
<circle cx="175.00" cy="118.10" r="0.98" fill="none" stroke="#111" stroke-width="0.85"/>
<circle cx="173.70" cy="125.40" r="0.98" fill="none" stroke="#111" stroke-width="0.85"/>
<circle cx="172.40" cy="135.40" r="1.2" fill="#111" stroke="none" stroke-width="0.6"/>
<circle cx="175.00" cy="135.40" r="1.2" fill="#111" stroke="none" stroke-width="0.6"/>
<line x1="193.5" y1="79.89999999999999" x2="193.5" y2="86.7" stroke="#111" stroke-width="0.9"/>
<line x1="190.9" y1="79.5" x2="196.1" y2="79.5" stroke="#111" stroke-width="0.9"/>
<line x1="190.9" y1="86.5" x2="196.1" y2="86.5" stroke="#111" stroke-width="0.9"/>
<circle cx="193.50" cy="58.75" r="0.98" fill="none" stroke="#111" stroke-width="0.85"/>
<circle cx="192.20" cy="75.75" r="0.98" fill="none" stroke="#111" stroke-width="0.85"/>
<circle cx="194.80" cy="75.75" r="0.98" fill="none" stroke="#111" stroke-width="0.85"/>
<circle cx="190.90" cy="83.30" r="0.98" fill="none" stroke="#111" stroke-width="0.85"/>
<circle cx="193.50" cy="83.30" r="0.98" fill="none" stroke="#111" stroke-width="0.85"/>
<circle cx="196.10" cy="83.30" r="0.98" fill="none" stroke="#111" stroke-width="0.85"/>
<circle cx="192.20" cy="86.75" r="0.98" fill="none" stroke="#111" stroke-width="0.85"/>
<circle cx="194.80" cy="86.75" r="0.98" fill="none" stroke="#111" stroke-width="0.85"/>
<circle cx="193.50" cy="90.00" r="0.98" fill="none" stroke="#111" stroke-width="0.85"/>
<circle cx="193.50" cy="93.75" r="0.98" fill="none" stroke="#111" stroke-width="0.85"/>
<circle cx="193.50" cy="97.00" r="0.98" fill="none" stroke="#111" stroke-width="0.85"/>
<circle cx="193.50" cy="100.75" r="0.98" fill="none" stroke="#111" stroke-width="0.85"/>
<line x1="212.5" y1="106.75" x2="212.5" y2="110.75" stroke="#111" stroke-width="0.9"/>
<line x1="210.20000000000002" y1="106.5" x2="215.4" y2="106.5" stroke="#111" stroke-width="0.9"/>
<line x1="210.20000000000002" y1="110.5" x2="215.4" y2="110.5" stroke="#111" stroke-width="0.9"/>
<circle cx="212.80" cy="100.00" r="1.2" fill="#111" stroke="none" stroke-width="0.6"/>
<circle cx="211.50" cy="103.75" r="1.2" fill="#111" stroke="none" stroke-width="0.6"/>
<circle cx="214.10" cy="103.75" r="1.2" fill="#111" stroke="none" stroke-width="0.6"/>
<circle cx="208.30" cy="108.00" r="1.2" fill="#111" stroke="none" stroke-width="0.6"/>
<circle cx="211.30" cy="108.00" r="1.2" fill="#111" stroke="none" stroke-width="0.6"/>
<circle cx="214.30" cy="108.00" r="1.2" fill="#111" stroke="none" stroke-width="0.6"/>
<circle cx="217.30" cy="108.00" r="1.2" fill="#111" stroke="none" stroke-width="0.6"/>
<circle cx="212.80" cy="112.50" r="1.2" fill="#111" stroke="none" stroke-width="0.6"/>
<circle cx="211.50" cy="117.00" r="1.2" fill="#111" stroke="none" stroke-width="0.6"/>
<circle cx="214.10" cy="117.00" r="1.2" fill="#111" stroke="none" stroke-width="0.6"/>
<circle cx="212.80" cy="119.00" r="1.2" fill="#111" stroke="none" stroke-width="0.6"/>
<circle cx="212.80" cy="122.00" r="1.2" fill="#111" stroke="none" stroke-width="0.6"/>
<text x="160.6" y="142" font-size="10.1" text-anchor="end" fill="#000" stroke="#000" stroke-width="0.1" transform="rotate(-45 160.6 142)">Cont</text>
<text x="180.1" y="142" font-size="10.1" text-anchor="end" fill="#000" stroke="#000" stroke-width="0.1" transform="rotate(-45 180.1 142)">cKD</text>
<text x="199.6" y="142" font-size="10.1" text-anchor="end" fill="#000" stroke="#000" stroke-width="0.1" transform="rotate(-45 199.6 142)">Cont</text>
<text x="219.1" y="142" font-size="10.1" text-anchor="end" fill="#000" stroke="#000" stroke-width="0.1" transform="rotate(-45 219.1 142)">cKD</text>
<line x1="146.5" y1="161.5" x2="180" y2="161.5" stroke="#222" stroke-width="1.0"/>
<line x1="185" y1="161.5" x2="218" y2="161.5" stroke="#222" stroke-width="1.0"/>
<text x="163" y="170.6" font-size="8.75" text-anchor="middle" fill="#000" stroke="#000" stroke-width="0.1">+ saline</text>
<text x="201.5" y="170.6" font-size="8.75" text-anchor="middle" fill="#000" stroke="#000" stroke-width="0.1">+ cocaine</text>
<rect x="274.7" y="9.2" width="5" height="11" fill="#D0D0D0" stroke="none" stroke-width="1"/>
<rect x="287" y="9.2" width="5.2" height="11" fill="#D0D0D0" stroke="none" stroke-width="1"/>
<polygon points="272,20 295.3,20 298.7,36.7 268.3,36.7" fill="#F8CDB1" stroke="#BFC6CC" stroke-width="0.5"/>
<line x1="277.5" y1="36.7" x2="277.5" y2="65.8" stroke="#7ED0E3" stroke-width="0.9"/>
<line x1="289.5" y1="36.7" x2="289.5" y2="65.8" stroke="#7ED0E3" stroke-width="0.9"/>
<g fill="none" stroke="#111" stroke-width="0.85" stroke-linecap="round" stroke-linejoin="round">
<path d="M282.7,43.7 C282.2,43.5 280.7,42.6 279.5,42.3 C278.3,42.0 277.1,41.7 275.7,41.7 C274.3,41.7 272.5,41.9 271.0,42.2 C269.5,42.5 268.1,43.1 266.8,43.7 C265.6,44.3 264.5,45.1 263.5,46.0 C262.5,46.9 261.7,47.9 261.0,48.9 C260.3,49.9 259.9,51.1 259.5,52.3 C259.1,53.5 258.9,54.8 258.8,55.9 C258.7,57.0 258.6,57.9 258.7,59.0 C258.8,60.1 258.9,61.1 259.1,62.3 C259.3,63.5 259.7,64.8 260.1,66.0 C260.5,67.2 261.1,68.2 261.7,69.3 C262.3,70.4 263.0,71.5 263.7,72.4 C264.4,73.4 265.2,74.2 266.1,75.0 C267.0,75.8 267.9,76.6 268.9,77.3 C269.9,78.0 271.0,78.6 271.9,78.9 C272.8,79.2 273.6,79.4 274.5,79.4 C275.4,79.4 276.2,79.3 277.0,79.1 C277.8,78.9 278.6,78.5 279.2,78.2 C279.8,77.9 280.3,77.4 280.8,77.0 C281.3,76.6 281.7,76.1 282.0,75.7 C282.3,75.3 282.6,74.6 282.7,74.4"/>
<path d="M282.7,43.7 C283.2,43.5 284.7,42.6 285.9,42.3 C287.1,42.0 288.3,41.7 289.7,41.7 C291.1,41.7 292.9,41.9 294.4,42.2 C295.9,42.5 297.3,43.1 298.6,43.7 C299.8,44.3 300.9,45.1 301.9,46.0 C302.9,46.9 303.7,47.9 304.4,48.9 C305.1,49.9 305.5,51.1 305.9,52.3 C306.3,53.5 306.5,54.8 306.6,55.9 C306.7,57.0 306.8,57.9 306.7,59.0 C306.6,60.1 306.5,61.1 306.3,62.3 C306.1,63.5 305.7,64.8 305.3,66.0 C304.9,67.2 304.3,68.2 303.7,69.3 C303.1,70.4 302.4,71.5 301.7,72.4 C301.0,73.4 300.2,74.2 299.3,75.0 C298.4,75.8 297.5,76.6 296.5,77.3 C295.5,78.0 294.4,78.6 293.5,78.9 C292.6,79.2 291.8,79.4 290.9,79.4 C290.0,79.4 289.2,79.3 288.4,79.1 C287.6,78.9 286.8,78.5 286.2,78.2 C285.6,77.9 285.1,77.4 284.6,77.0 C284.1,76.6 283.7,76.1 283.4,75.7 C283.1,75.3 282.8,74.6 282.7,74.4"/>
<path d="M282.7,43.7 L282.7,74.4"/>
<path d="M282.7,57 L282.7,67" stroke-width="1.3"/>
<path d="M267.6,67.6 C267.4,67.4 266.9,67.0 266.6,66.3 C266.3,65.6 266.1,64.5 266.0,63.5 C265.9,62.5 266.0,61.5 266.2,60.5 C266.4,59.5 267.0,58.1 267.4,57.2 C267.8,56.3 268.3,55.6 268.8,55.0 C269.3,54.4 270.0,53.8 270.6,53.3 C271.2,52.8 271.8,52.5 272.4,52.3 C273.0,52.1 273.8,51.9 274.4,52.0 C275.0,52.1 275.7,52.4 276.2,52.8 C276.7,53.2 277.2,53.9 277.6,54.6 C278.0,55.3 278.4,56.0 278.7,56.8 C279.0,57.5 279.3,58.3 279.5,59.1 C279.7,59.9 279.9,60.7 280.0,61.5 C280.1,62.3 280.2,63.4 280.2,63.8" stroke-width="0.95"/>
<path d="M297.8,67.6 C298.0,67.4 298.5,67.0 298.8,66.3 C299.1,65.6 299.3,64.5 299.4,63.5 C299.5,62.5 299.4,61.5 299.2,60.5 C299.0,59.5 298.4,58.1 298.0,57.2 C297.6,56.3 297.1,55.6 296.6,55.0 C296.1,54.4 295.4,53.8 294.8,53.3 C294.2,52.8 293.6,52.5 293.0,52.3 C292.4,52.1 291.6,51.9 291.0,52.0 C290.4,52.1 289.7,52.4 289.2,52.8 C288.7,53.2 288.2,53.9 287.8,54.6 C287.4,55.3 287.0,56.0 286.7,56.8 C286.4,57.5 286.1,58.3 285.9,59.1 C285.7,59.9 285.5,60.7 285.4,61.5 C285.3,62.3 285.2,63.4 285.2,63.8" stroke-width="0.95"/>
<path d="M269.2,64.0 C269.2,63.5 269.3,61.9 269.4,61.0 C269.5,60.1 269.8,59.1 270.0,58.4 C270.2,57.7 270.5,57.1 270.8,56.6 C271.1,56.1 271.5,55.6 271.9,55.2 C272.3,54.9 272.7,54.6 273.1,54.5 C273.5,54.4 274.0,54.2 274.4,54.3 C274.8,54.4 275.2,54.7 275.6,55.1 C276.0,55.5 276.4,55.9 276.7,56.5 C277.0,57.1 277.3,57.9 277.5,58.6 C277.7,59.4 277.9,60.1 278.0,61.0 C278.1,61.9 278.2,63.7 278.3,64.2" stroke-width="0.7"/>
<path d="M296.2,64.0 C296.2,63.5 296.1,61.9 296.0,61.0 C295.9,60.1 295.6,59.1 295.4,58.4 C295.2,57.7 294.9,57.1 294.6,56.6 C294.3,56.1 293.9,55.6 293.5,55.2 C293.1,54.9 292.7,54.6 292.3,54.5 C291.9,54.4 291.4,54.2 291.0,54.3 C290.6,54.4 290.2,54.7 289.8,55.1 C289.4,55.5 289.0,55.9 288.7,56.5 C288.4,57.1 288.1,57.9 287.9,58.6 C287.7,59.4 287.5,60.1 287.4,61.0 C287.3,61.9 287.1,63.7 287.1,64.2" stroke-width="0.7"/>
<circle cx="275.1" cy="69.1" r="2.8" stroke-dasharray="0.7 1.25" stroke-width="0.85"/>
<circle cx="275.1" cy="69.1" r="1.0" stroke-width="0.6"/>
<circle cx="290.6" cy="69.1" r="2.8" stroke-dasharray="0.7 1.25" stroke-width="0.85"/>
<circle cx="290.6" cy="69.1" r="1.0" stroke-width="0.6"/>
<path d="M266.1,68.3 C266.6,70.3 267.8,71.4 269.3,71.9 C270.5,72.6 272,73 273.4,73.1" stroke-dasharray="0.8 1.1" stroke-width="0.75"/>
<path d="M268.4,68.2 C268.9,69.5 269.8,70.3 271,70.7" stroke-dasharray="0.8 1.1" stroke-width="0.65"/>
</g>
<line x1="272" y1="73.6" x2="268.6" y2="77.8" stroke="#222" stroke-width="0.7"/>
<polygon points="268.2,77.2 270.4,79 264.4,85.8 262.2,84" fill="#E0161B" stroke="#A01010" stroke-width="0.3"/>
<g fill="#fff" stroke="#333" stroke-width="0.5"><polygon points="262.6,84.6 263.8,85.6 261.7,88 260.5,87"/><polygon points="258.3,87.3 262.2,90.3 261,91.5 257.1,88.5"/><polygon points="259.6,85.2 264.4,88.8 263.8,89.6 259,86"/></g>
<text x="271.8" y="91.3" font-size="7.2" text-anchor="start" fill="#000" stroke="#000" stroke-width="0.1">Cont or cKD</text>
<text x="250.5" y="102" font-size="7.1" text-anchor="start" fill="#000" stroke="#000" stroke-width="0.1">PA-Rac1</text>
<text x="250.5" y="112" font-size="7.1" text-anchor="start" fill="#000" stroke="#000" stroke-width="0.1">or PI-Rac1</text>
<rect x="242.5" y="118.8" width="75.5" height="33.7" fill="#fff" stroke="#111" stroke-width="1"/>
<text x="258.8" y="128.8" font-size="8.6" text-anchor="start" fill="#000" stroke="#000" stroke-width="0.1">+Light (10 min)</text>
<text x="249.5" y="142.7" font-size="8.2" text-anchor="start" fill="#000" stroke="#000" stroke-width="0.1">+cocaine</text>
<rect x="289.3" y="133.3" width="5.7" height="14.7" fill="#5BC3E6" stroke="none" stroke-width="1"/>
<line x1="287.5" y1="140.5" x2="297" y2="140.5" stroke="#000" stroke-width="1"/>
<polygon points="296,137.3 302.3,140.5 296,143.7" fill="#000"/>
<text x="290.5" y="163" font-size="8.0" text-anchor="start" fill="#000" stroke="#000" stroke-width="0.1">D1 ~D5</text>
<text x="401" y="25" font-size="9.8" text-anchor="middle" fill="#000" stroke="#000" stroke-width="0.1">GTP-Rac1</text>
<rect x="364.5" y="101.3" width="13.199999999999989" height="34.60000000000001" fill="#D6D6D6" stroke="none" stroke-width="1"/>
<rect x="384.2" y="95" width="13.100000000000023" height="40.900000000000006" fill="#7F7F7F" stroke="none" stroke-width="1"/>
<rect x="403.8" y="115.8" width="12.899999999999977" height="20.10000000000001" fill="#FBDCDC" stroke="none" stroke-width="1"/>
<rect x="423" y="88" width="12.800000000000011" height="47.900000000000006" fill="#E8242A" stroke="none" stroke-width="1"/>
<rect x="358.0" y="135.1" width="83.5" height="1.6" fill="#808080" stroke="none" stroke-width="1"/>
<line x1="358.5" y1="136.4" x2="358.5" y2="52.5" stroke="#000" stroke-width="1"/>
<line x1="356.0" y1="53.5" x2="358.5" y2="53.5" stroke="#000" stroke-width="1"/>
<text x="355.4" y="56" font-size="8.55" text-anchor="end" fill="#000" stroke="#000" stroke-width="0.1">0.8</text>
<line x1="356.0" y1="73.5" x2="358.5" y2="73.5" stroke="#000" stroke-width="1"/>
<text x="355.4" y="76.7" font-size="8.55" text-anchor="end" fill="#000" stroke="#000" stroke-width="0.1">0.6</text>
<line x1="356.0" y1="94.5" x2="358.5" y2="94.5" stroke="#000" stroke-width="1"/>
<text x="355.4" y="97.4" font-size="8.55" text-anchor="end" fill="#000" stroke="#000" stroke-width="0.1">0.4</text>
<line x1="356.0" y1="115.5" x2="358.5" y2="115.5" stroke="#000" stroke-width="1"/>
<text x="355.4" y="118" font-size="8.55" text-anchor="end" fill="#000" stroke="#000" stroke-width="0.1">0.2</text>
<line x1="356.0" y1="135.5" x2="358.5" y2="135.5" stroke="#000" stroke-width="1"/>
<text x="355.4" y="138.7" font-size="8.55" text-anchor="end" fill="#000" stroke="#000" stroke-width="0.1">0.0</text>
<text x="335.5" y="95" font-size="8.7" text-anchor="middle" fill="#000" stroke="#000" stroke-width="0.1" transform="rotate(-90 335.5 95)">Puncta density (n/μm)</text>
<rect x="371.3" y="33.6" width="58.2" height="1.5" fill="#858585" stroke="none" stroke-width="1"/>
<path d="M400.30,30.70L400.30,29.35M400.30,30.70L401.58,30.28M400.30,30.70L401.09,31.79M400.30,30.70L399.51,31.79M400.30,30.70L399.02,30.28" stroke="#000" stroke-width="0.85" stroke-linecap="round" fill="none"/>
<circle cx="400.30" cy="30.70" r="0.75" fill="#000" stroke="none" stroke-width="0.6"/>
<line x1="371.3" y1="41.5" x2="409.5" y2="41.5" stroke="#000" stroke-width="1.0"/>
<path d="M390.40,38.60L390.40,37.25M390.40,38.60L391.68,38.18M390.40,38.60L391.19,39.69M390.40,38.60L389.61,39.69M390.40,38.60L389.12,38.18" stroke="#000" stroke-width="0.85" stroke-linecap="round" fill="none"/>
<circle cx="390.40" cy="38.60" r="0.75" fill="#000" stroke="none" stroke-width="0.6"/>
<line x1="390.8" y1="50.5" x2="408.8" y2="50.5" stroke="#000" stroke-width="1.0"/>
<path d="M396.30,47.60L396.30,46.25M396.30,47.60L397.58,47.18M396.30,47.60L397.09,48.69M396.30,47.60L395.51,48.69M396.30,47.60L395.02,47.18" stroke="#000" stroke-width="0.85" stroke-linecap="round" fill="none"/>
<circle cx="396.30" cy="47.60" r="0.75" fill="#000" stroke="none" stroke-width="0.6"/>
<path d="M399.80,47.60L399.80,46.25M399.80,47.60L401.08,47.18M399.80,47.60L400.59,48.69M399.80,47.60L399.01,48.69M399.80,47.60L398.52,47.18" stroke="#000" stroke-width="0.85" stroke-linecap="round" fill="none"/>
<circle cx="399.80" cy="47.60" r="0.75" fill="#000" stroke="none" stroke-width="0.6"/>
<path d="M403.30,47.60L403.30,46.25M403.30,47.60L404.58,47.18M403.30,47.60L404.09,48.69M403.30,47.60L402.51,48.69M403.30,47.60L402.02,47.18" stroke="#000" stroke-width="0.85" stroke-linecap="round" fill="none"/>
<circle cx="403.30" cy="47.60" r="0.75" fill="#000" stroke="none" stroke-width="0.6"/>
<line x1="411.3" y1="50.5" x2="428.8" y2="50.5" stroke="#000" stroke-width="1.0"/>
<path d="M414.80,47.60L414.80,46.25M414.80,47.60L416.08,47.18M414.80,47.60L415.59,48.69M414.80,47.60L414.01,48.69M414.80,47.60L413.52,47.18" stroke="#000" stroke-width="0.85" stroke-linecap="round" fill="none"/>
<circle cx="414.80" cy="47.60" r="0.75" fill="#000" stroke="none" stroke-width="0.6"/>
<path d="M418.30,47.60L418.30,46.25M418.30,47.60L419.58,47.18M418.30,47.60L419.09,48.69M418.30,47.60L417.51,48.69M418.30,47.60L417.02,47.18" stroke="#000" stroke-width="0.85" stroke-linecap="round" fill="none"/>
<circle cx="418.30" cy="47.60" r="0.75" fill="#000" stroke="none" stroke-width="0.6"/>
<path d="M421.80,47.60L421.80,46.25M421.80,47.60L423.08,47.18M421.80,47.60L422.59,48.69M421.80,47.60L421.01,48.69M421.80,47.60L420.52,47.18" stroke="#000" stroke-width="0.85" stroke-linecap="round" fill="none"/>
<circle cx="421.80" cy="47.60" r="0.75" fill="#000" stroke="none" stroke-width="0.6"/>
<path d="M425.30,47.60L425.30,46.25M425.30,47.60L426.58,47.18M425.30,47.60L426.09,48.69M425.30,47.60L424.51,48.69M425.30,47.60L424.02,47.18" stroke="#000" stroke-width="0.85" stroke-linecap="round" fill="none"/>
<circle cx="425.30" cy="47.60" r="0.75" fill="#000" stroke="none" stroke-width="0.6"/>
<line x1="371.5" y1="99.80000000000001" x2="371.5" y2="103.0" stroke="#111" stroke-width="0.9"/>
<line x1="368.5" y1="99.5" x2="373.70000000000005" y2="99.5" stroke="#111" stroke-width="0.9"/>
<line x1="368.5" y1="103.5" x2="373.70000000000005" y2="103.5" stroke="#111" stroke-width="0.9"/>
<circle cx="371.10" cy="90.00" r="0.98" fill="none" stroke="#111" stroke-width="0.85"/>
<circle cx="371.10" cy="93.00" r="0.98" fill="none" stroke="#111" stroke-width="0.85"/>
<circle cx="368.50" cy="96.25" r="0.98" fill="none" stroke="#111" stroke-width="0.85"/>
<circle cx="371.10" cy="96.25" r="0.98" fill="none" stroke="#111" stroke-width="0.85"/>
<circle cx="373.70" cy="96.25" r="0.98" fill="none" stroke="#111" stroke-width="0.85"/>
<circle cx="365.30" cy="99.40" r="0.98" fill="none" stroke="#111" stroke-width="0.85"/>
<circle cx="368.20" cy="99.40" r="0.98" fill="none" stroke="#111" stroke-width="0.85"/>
<circle cx="371.10" cy="99.40" r="0.98" fill="none" stroke="#111" stroke-width="0.85"/>
<circle cx="374.00" cy="99.40" r="0.98" fill="none" stroke="#111" stroke-width="0.85"/>
<circle cx="376.90" cy="99.40" r="0.98" fill="none" stroke="#111" stroke-width="0.85"/>
<circle cx="368.50" cy="102.50" r="0.98" fill="none" stroke="#111" stroke-width="0.85"/>
<circle cx="371.10" cy="102.50" r="0.98" fill="none" stroke="#111" stroke-width="0.85"/>
<circle cx="373.70" cy="102.50" r="0.98" fill="none" stroke="#111" stroke-width="0.85"/>
<circle cx="369.80" cy="105.50" r="0.98" fill="none" stroke="#111" stroke-width="0.85"/>
<circle cx="372.40" cy="105.50" r="0.98" fill="none" stroke="#111" stroke-width="0.85"/>
<circle cx="371.10" cy="108.00" r="0.98" fill="none" stroke="#111" stroke-width="0.85"/>
<circle cx="371.10" cy="113.25" r="0.98" fill="none" stroke="#111" stroke-width="0.85"/>
<line x1="390.5" y1="91.3" x2="390.5" y2="98.7" stroke="#111" stroke-width="0.9"/>
<line x1="388.2" y1="91.5" x2="393.40000000000003" y2="91.5" stroke="#111" stroke-width="0.9"/>
<line x1="388.2" y1="98.5" x2="393.40000000000003" y2="98.5" stroke="#111" stroke-width="0.9"/>
<circle cx="390.80" cy="78.25" r="0.98" fill="none" stroke="#111" stroke-width="0.85"/>
<circle cx="390.80" cy="83.75" r="0.98" fill="none" stroke="#111" stroke-width="0.85"/>
<circle cx="390.80" cy="87.50" r="0.98" fill="none" stroke="#111" stroke-width="0.85"/>
<circle cx="389.50" cy="94.50" r="0.98" fill="none" stroke="#111" stroke-width="0.85"/>
<circle cx="392.10" cy="94.50" r="0.98" fill="none" stroke="#111" stroke-width="0.85"/>
<circle cx="388.80" cy="97.00" r="0.98" fill="none" stroke="#111" stroke-width="0.85"/>
<circle cx="390.80" cy="97.00" r="0.98" fill="none" stroke="#111" stroke-width="0.85"/>
<circle cx="392.80" cy="97.00" r="0.98" fill="none" stroke="#111" stroke-width="0.85"/>
<circle cx="389.50" cy="99.30" r="0.98" fill="none" stroke="#111" stroke-width="0.85"/>
<circle cx="392.10" cy="99.30" r="0.98" fill="none" stroke="#111" stroke-width="0.85"/>
<circle cx="390.80" cy="101.30" r="0.98" fill="none" stroke="#111" stroke-width="0.85"/>
<circle cx="390.80" cy="113.25" r="0.98" fill="none" stroke="#111" stroke-width="0.85"/>
<line x1="410.5" y1="113.80000000000001" x2="410.5" y2="118.0" stroke="#111" stroke-width="0.9"/>
<line x1="407.7" y1="113.5" x2="412.90000000000003" y2="113.5" stroke="#111" stroke-width="0.9"/>
<line x1="407.7" y1="118.5" x2="412.90000000000003" y2="118.5" stroke="#111" stroke-width="0.9"/>
<circle cx="410.30" cy="108.00" r="0.98" fill="none" stroke="#111" stroke-width="0.85"/>
<circle cx="410.30" cy="110.20" r="0.98" fill="none" stroke="#111" stroke-width="0.85"/>
<circle cx="410.30" cy="112.50" r="0.98" fill="none" stroke="#111" stroke-width="0.85"/>
<circle cx="409.00" cy="116.25" r="0.98" fill="none" stroke="#111" stroke-width="0.85"/>
<circle cx="411.60" cy="116.25" r="0.98" fill="none" stroke="#111" stroke-width="0.85"/>
<circle cx="410.30" cy="120.00" r="0.98" fill="none" stroke="#111" stroke-width="0.85"/>
<circle cx="410.30" cy="123.00" r="0.98" fill="none" stroke="#111" stroke-width="0.85"/>
<circle cx="410.30" cy="127.50" r="0.98" fill="none" stroke="#111" stroke-width="0.85"/>
<line x1="429.5" y1="82.0" x2="429.5" y2="94.0" stroke="#111" stroke-width="0.9"/>
<line x1="426.79999999999995" y1="82.5" x2="432.0" y2="82.5" stroke="#111" stroke-width="0.9"/>
<line x1="426.79999999999995" y1="94.5" x2="432.0" y2="94.5" stroke="#111" stroke-width="0.9"/>
<circle cx="429.40" cy="54.50" r="1.2" fill="#111" stroke="none" stroke-width="0.6"/>
<circle cx="429.40" cy="76.25" r="1.2" fill="#111" stroke="none" stroke-width="0.6"/>
<circle cx="429.40" cy="81.25" r="1.2" fill="#111" stroke="none" stroke-width="0.6"/>
<circle cx="428.10" cy="87.50" r="1.2" fill="#111" stroke="none" stroke-width="0.6"/>
<circle cx="430.70" cy="87.50" r="1.2" fill="#111" stroke="none" stroke-width="0.6"/>
<circle cx="428.10" cy="93.75" r="1.2" fill="#111" stroke="none" stroke-width="0.6"/>
<circle cx="430.70" cy="93.75" r="1.2" fill="#111" stroke="none" stroke-width="0.6"/>
<circle cx="429.40" cy="97.50" r="1.2" fill="#111" stroke="none" stroke-width="0.6"/>
<circle cx="429.40" cy="103.75" r="1.2" fill="#111" stroke="none" stroke-width="0.6"/>
<circle cx="429.40" cy="110.00" r="1.2" fill="#111" stroke="none" stroke-width="0.6"/>
<text x="371.3" y="148.2" font-size="11.6" text-anchor="middle" fill="#000" stroke="#000" stroke-width="0.1">PI</text>
<text x="390.6" y="148.2" font-size="11.6" text-anchor="middle" fill="#000" stroke="#000" stroke-width="0.1">PA</text>
<text x="410.3" y="148.2" font-size="11.6" text-anchor="middle" fill="#000" stroke="#000" stroke-width="0.1">PI</text>
<text x="429.6" y="148.2" font-size="11.6" text-anchor="middle" fill="#000" stroke="#000" stroke-width="0.1">PA</text>
<line x1="364.8" y1="153.5" x2="399" y2="153.5" stroke="#000" stroke-width="1.0"/>
<line x1="403.4" y1="153.5" x2="437.4" y2="153.5" stroke="#333" stroke-width="1.0"/>
<text x="381.3" y="162.8" font-size="8.7" text-anchor="middle" fill="#000" stroke="#000" stroke-width="0.1">Cont</text>
<text x="420.3" y="162.8" font-size="8.6" text-anchor="middle" fill="#000" stroke="#000" stroke-width="0.1">cKD</text>
<text x="400.6" y="173.2" font-size="8.65" text-anchor="middle" fill="#000" stroke="#000" stroke-width="0.1">+ cocaine</text>
<text x="508.8" y="30.7" font-size="11.1" text-anchor="middle" fill="#000" stroke="#000" stroke-width="0.1">cocaine/cKD</text>
<rect x="466" y="36" width="43.5" height="106" fill="#020302" stroke="none" stroke-width="1"/>
<rect x="510.5" y="36" width="43.5" height="106" fill="#020302" stroke="none" stroke-width="1"/>
<line x1="509.5" y1="36" x2="509.5" y2="142" stroke="#777" stroke-width="0.9"/>
<g clip-path="url(#cc1)">
<g filter="url(#b1)">
<path d="M477.2,35.3 L477.3,36.4 L477.4,37.4 L477.5,38.4 L477.9,39.4 L478.3,40.4 L478.7,41.3 L478.9,42.4 L479.0,43.5 L479.2,44.7 L479.6,45.8 L480.2,46.8 L480.5,48.0 L480.9,49.1 L481.3,50.3 L481.9,51.3 L482.5,52.3 L482.9,53.4 L483.0,54.5 L483.1,55.6 L483.4,56.6 L483.9,57.6 L484.4,58.7 L484.9,59.7 L485.3,60.8 L485.7,61.9 L486.0,63.1 L486.1,64.3 L486.2,65.6 L486.2,66.8 L486.1,68.0 L486.1,69.2 L486.3,70.2 L486.4,71.3 L486.7,72.2 L486.8,73.2 L486.9,74.2 L486.7,75.2 L486.5,76.2 L486.5,77.2 L486.8,78.2 L487.3,79.2 L487.8,80.1 L488.2,81.1 L488.4,82.1 L488.4,83.2 L488.4,84.2 L488.4,85.3 L488.5,86.3 L488.6,87.4 L488.8,88.5 L489.0,89.6 L489.2,90.7 L489.6,91.7 L490.0,92.8 L490.5,93.8 L490.7,94.9 L491.1,96.0 L491.2,97.1 L491.4,98.2 L491.3,99.4 L491.4,100.5 L491.6,101.5 L491.5,102.6 L491.7,103.7 L491.8,104.7 L492.1,105.8 L492.0,106.8 L491.7,107.8 L491.1,108.7 L490.7,109.7 L490.2,110.6 L489.9,111.6 L489.9,112.6 L490.1,113.6 L490.1,114.6 L489.9,115.6 L489.6,116.6 L489.3,117.6 L488.8,118.4 L488.4,119.3 L487.8,120.3 L487.7,121.4 L487.2,122.4 L486.9,123.4 L486.1,124.1 L485.5,124.8 L484.6,125.6 L484.0,126.5 L483.5,127.6 L483.2,128.8 L482.9,130.0 L482.6,131.3 L482.3,132.4 L481.8,133.4 L480.9,134.2 L480.1,135.0 L479.5,136.0 L479.2,137.1 L478.7,138.1 L478.0,139.0 L477.5,140.0 L477.3,141.1 L477.2,142.4 L479.6,143.5 L480.1,142.6 L480.7,141.6 L481.4,140.7 L482.1,139.8 L482.8,138.9 L483.4,137.9 L483.9,136.9 L484.3,135.9 L484.6,134.8 L485.0,133.7 L485.5,132.7 L486.4,131.9 L487.3,131.0 L487.9,130.0 L488.3,129.0 L488.7,128.1 L489.3,127.3 L489.8,126.4 L490.4,125.5 L490.9,124.5 L491.6,123.6 L492.3,122.5 L493.0,121.4 L493.5,120.2 L493.9,119.0 L494.1,117.8 L494.0,116.5 L494.3,115.4 L494.7,114.4 L495.3,113.5 L495.6,112.5 L495.7,111.4 L495.7,110.4 L495.7,109.4 L495.7,108.3 L495.9,107.2 L495.9,106.1 L496.0,105.0 L495.9,103.9 L496.1,102.7 L496.1,101.5 L496.1,100.2 L495.8,99.0 L495.6,97.7 L495.1,96.5 L494.7,95.2 L494.3,93.9 L494.3,92.6 L494.1,91.4 L493.9,90.2 L493.5,89.3 L493.2,88.3 L492.8,87.4 L492.5,86.5 L492.2,85.6 L492.1,84.7 L492.0,83.7 L492.1,82.7 L492.1,81.7 L492.1,80.8 L492.0,79.8 L491.9,78.8 L491.7,77.8 L491.6,76.8 L491.3,75.8 L490.8,74.9 L490.5,73.9 L490.4,72.9 L490.7,71.8 L491.0,70.7 L491.0,69.6 L490.7,68.5 L490.0,67.3 L489.5,66.2 L489.1,65.0 L489.0,63.7 L488.9,62.4 L488.7,61.1 L488.4,59.9 L488.1,58.7 L488.0,57.4 L487.6,56.3 L487.1,55.3 L486.4,54.4 L485.8,53.4 L485.3,52.4 L484.7,51.4 L484.2,50.3 L483.7,49.3 L483.6,48.1 L483.4,47.0 L483.1,46.0 L482.7,44.9 L482.2,43.9 L481.8,42.8 L481.5,41.7 L481.1,40.7 L480.8,39.7 L480.5,38.8 L480.3,37.7 L480.2,36.7 L480.0,35.7 L479.8,34.7Z" fill="#44C142" stroke="#44C142" stroke-width="0.6" stroke-linejoin="round"/>
<line x1="478.7" y1="36.0" x2="476.2" y2="38.6" stroke="#44C142" stroke-width="1.4" stroke-linecap="round"/>
<circle cx="476.2" cy="38.6" r="1.14" fill="#44C142"/>
<line x1="480.2" y1="42.1" x2="476.6" y2="46.2" stroke="#44C142" stroke-width="1.4" stroke-linecap="round"/>
<circle cx="476.6" cy="46.2" r="1.03" fill="#44C142"/>
<line x1="481.1" y1="45.4" x2="484.0" y2="42.2" stroke="#44C142" stroke-width="1.5" stroke-linecap="round"/>
<circle cx="484.0" cy="42.2" r="1.10" fill="#44C142"/>
<line x1="483.0" y1="50.8" x2="488.8" y2="50.7" stroke="#44C142" stroke-width="1.4" stroke-linecap="round"/>
<line x1="485.5" y1="57.1" x2="481.6" y2="57.9" stroke="#44C142" stroke-width="1.5" stroke-linecap="round"/>
<line x1="487.5" y1="64.0" x2="491.9" y2="65.2" stroke="#44C142" stroke-width="1.1" stroke-linecap="round"/>
<circle cx="491.9" cy="65.2" r="1.11" fill="#44C142"/>
<line x1="488.2" y1="67.6" x2="483.1" y2="66.1" stroke="#44C142" stroke-width="1.4" stroke-linecap="round"/>
<circle cx="483.1" cy="66.1" r="0.92" fill="#44C142"/>
<line x1="488.8" y1="72.0" x2="493.1" y2="74.1" stroke="#44C142" stroke-width="1.7" stroke-linecap="round"/>
<line x1="489.1" y1="76.0" x2="494.2" y2="75.1" stroke="#44C142" stroke-width="1.3" stroke-linecap="round"/>
<line x1="489.6" y1="82.0" x2="485.2" y2="84.8" stroke="#44C142" stroke-width="1.5" stroke-linecap="round"/>
<circle cx="485.2" cy="84.8" r="0.96" fill="#44C142"/>
<line x1="490.6" y1="88.0" x2="494.6" y2="87.1" stroke="#44C142" stroke-width="1.3" stroke-linecap="round"/>
<line x1="491.9" y1="92.1" x2="488.5" y2="95.3" stroke="#44C142" stroke-width="1.8" stroke-linecap="round"/>
<circle cx="488.5" cy="95.3" r="1.13" fill="#44C142"/>
<line x1="493.2" y1="96.8" x2="498.7" y2="97.4" stroke="#44C142" stroke-width="1.2" stroke-linecap="round"/>
<line x1="493.6" y1="101.5" x2="498.4" y2="100.2" stroke="#44C142" stroke-width="1.5" stroke-linecap="round"/>
<circle cx="498.4" cy="100.2" r="1.00" fill="#44C142"/>
<line x1="493.2" y1="108.0" x2="497.4" y2="107.3" stroke="#44C142" stroke-width="1.4" stroke-linecap="round"/>
<line x1="492.3" y1="114.0" x2="496.0" y2="116.0" stroke="#44C142" stroke-width="1.4" stroke-linecap="round"/>
<line x1="491.4" y1="118.2" x2="495.1" y2="122.0" stroke="#44C142" stroke-width="1.4" stroke-linecap="round"/>
<circle cx="495.1" cy="122.0" r="1.27" fill="#44C142"/>
<line x1="490.6" y1="120.3" x2="484.5" y2="121.0" stroke="#44C142" stroke-width="1.7" stroke-linecap="round"/>
<line x1="487.3" y1="126.0" x2="484.4" y2="120.8" stroke="#44C142" stroke-width="1.2" stroke-linecap="round"/>
<circle cx="484.4" cy="120.8" r="1.10" fill="#44C142"/>
<line x1="484.6" y1="130.9" x2="480.8" y2="128.5" stroke="#44C142" stroke-width="1.7" stroke-linecap="round"/>
<circle cx="480.8" cy="128.5" r="0.93" fill="#44C142"/>
<line x1="481.5" y1="137.0" x2="487.2" y2="136.4" stroke="#44C142" stroke-width="1.6" stroke-linecap="round"/>
<line x1="479.0" y1="142.0" x2="481.7" y2="145.3" stroke="#44C142" stroke-width="1.3" stroke-linecap="round"/>
</g>
<path d="M478.5,35.0 L479.0,37.0 L479.5,39.0 L480.0,41.0 L480.5,43.1 L481.1,45.4 L481.7,47.6 L482.5,49.8 L483.5,51.9 L484.4,54.0 L485.1,56.0 L485.9,58.1 L486.6,60.4 L487.3,62.8 L487.8,65.3 L488.2,67.6 L488.6,69.9 L488.8,72.0 L489.0,74.0 L489.1,76.0 L489.3,78.0 L489.5,80.0 L489.6,82.0 L489.9,84.0 L490.2,86.0 L490.6,88.0 L491.2,90.0 L491.9,92.1 L492.7,94.4 L493.2,96.8 L493.5,99.2 L493.6,101.5 L493.6,103.8 L493.5,105.9 L493.2,108.0 L492.9,110.0 L492.6,112.0 L492.3,114.0 L491.9,116.1 L491.4,118.2 L490.6,120.3 L489.5,122.4 L488.4,124.3 L487.3,126.0 L486.2,127.8 L485.1,129.9 L484.0,132.0 L483.0,134.0 L482.0,136.0 L481.0,138.0 L480.0,140.0 L479.0,142.0" fill="none" stroke="#5ECC46" stroke-width="2.0" stroke-linecap="round" opacity="0.95" filter="url(#b2)"/>
<g filter="url(#b1)">
<circle cx="486" cy="140.8" r="1.6" fill="#35C932" opacity="0.9"/>
<circle cx="490" cy="141" r="1.5" fill="#35C932" opacity="0.9"/>
<circle cx="494" cy="141" r="1.4" fill="#35C932" opacity="0.85"/>
<circle cx="498" cy="141.2" r="1.3" fill="#35C932" opacity="0.8"/>
<circle cx="494.5" cy="53.5" r="1.5" fill="#35C932" opacity="0.95"/>
<circle cx="489" cy="44" r="1.0" fill="#35C932" opacity="0.7"/>
<circle cx="494" cy="64.5" r="1.2" fill="#35C932" opacity="0.9"/>
<circle cx="496" cy="72" r="1.3" fill="#35C932" opacity="0.9"/>
<circle cx="484.5" cy="68" r="1.0" fill="#35C932" opacity="0.8"/>
<circle cx="497.5" cy="86" r="1.4" fill="#35C932" opacity="0.9"/>
<circle cx="484.5" cy="78" r="1.1" fill="#35C932" opacity="0.8"/>
<circle cx="487.8" cy="102.7" r="1.2" fill="#35C932" opacity="0.9"/>
<circle cx="488.7" cy="111.8" r="1.2" fill="#35C932" opacity="0.9"/>
<circle cx="484.5" cy="116" r="1.1" fill="#35C932" opacity="0.8"/>
<circle cx="497.8" cy="106.8" r="1.3" fill="#35C932" opacity="0.9"/>
<circle cx="499.5" cy="120" r="1.2" fill="#35C932" opacity="0.9"/>
<circle cx="502.8" cy="115" r="1.0" fill="#35C932" opacity="0.8"/>
<circle cx="493.7" cy="125" r="1.2" fill="#35C932" opacity="0.9"/>
<circle cx="482.8" cy="120" r="1.0" fill="#35C932" opacity="0.8"/>
<circle cx="496" cy="130" r="1.1" fill="#35C932" opacity="0.8"/>
<circle cx="502" cy="138.5" r="1.0" fill="#35C932" opacity="0.7"/>
<circle cx="491" cy="135" r="1.0" fill="#35C932" opacity="0.8"/>
<circle cx="474" cy="47" r="0.7" fill="#35C932" opacity="0.5"/>
<circle cx="469" cy="76" r="0.8" fill="#35C932" opacity="0.6"/>
<circle cx="472" cy="58" r="0.7" fill="#35C932" opacity="0.5"/>
<circle cx="498" cy="97" r="1.1" fill="#35C932" opacity="0.8"/>
<circle cx="486" cy="93" r="1.0" fill="#35C932" opacity="0.8"/>
</g>
<g filter="url(#b3)">
<circle cx="467.5" cy="46" r="0.7" fill="#E01515" opacity="0.56"/>
<circle cx="471" cy="58" r="0.6" fill="#E01515" opacity="0.48"/>
<circle cx="477.5" cy="71" r="0.6" fill="#E01515" opacity="0.48"/>
<circle cx="500" cy="71" r="0.8" fill="#E01515" opacity="0.64"/>
<circle cx="505" cy="79" r="0.8" fill="#E01515" opacity="0.56"/>
<circle cx="470" cy="86" r="0.6" fill="#E01515" opacity="0.48"/>
<circle cx="483" cy="98" r="0.7" fill="#E01515" opacity="0.56"/>
<circle cx="502" cy="113" r="0.8" fill="#E01515" opacity="0.64"/>
<circle cx="505" cy="90" r="0.7" fill="#E01515" opacity="0.56"/>
<circle cx="477" cy="110" r="0.7" fill="#E01515" opacity="0.48"/>
<circle cx="471" cy="131" r="0.7" fill="#E01515" opacity="0.56"/>
<circle cx="470" cy="139.5" r="1.3" fill="#E01515" opacity="0.72"/>
<circle cx="474" cy="139" r="0.9" fill="#E01515" opacity="0.64"/>
<circle cx="504" cy="52" r="0.6" fill="#E01515" opacity="0.48"/>
<circle cx="487" cy="40" r="0.6" fill="#E01515" opacity="0.40"/>
<circle cx="506" cy="124" r="0.7" fill="#E01515" opacity="0.56"/>
<circle cx="493.7" cy="39.1" r="0.42" fill="#E01515" opacity="0.36"/>
<circle cx="497.8" cy="107.6" r="0.57" fill="#E01515" opacity="0.31"/>
<circle cx="484.4" cy="39.6" r="0.4" fill="#E01515" opacity="0.46"/>
<circle cx="467.6" cy="57.4" r="0.51" fill="#E01515" opacity="0.48"/>
<circle cx="475.9" cy="98.4" r="0.55" fill="#E01515" opacity="0.28"/>
<circle cx="500.7" cy="109.8" r="0.44" fill="#E01515" opacity="0.34"/>
<circle cx="507.2" cy="71.8" r="0.37" fill="#E01515" opacity="0.31"/>
<circle cx="502.5" cy="99.9" r="0.55" fill="#E01515" opacity="0.54"/>
<circle cx="489.3" cy="138.7" r="0.44" fill="#E01515" opacity="0.48"/>
<circle cx="501.7" cy="101.4" r="0.57" fill="#E01515" opacity="0.49"/>
<circle cx="496.4" cy="41.3" r="0.41" fill="#E01515" opacity="0.38"/>
<circle cx="469.9" cy="60.9" r="0.38" fill="#E01515" opacity="0.38"/>
<circle cx="493.5" cy="74.8" r="0.44" fill="#E01515" opacity="0.35"/>
<circle cx="477.8" cy="134.8" r="0.51" fill="#E01515" opacity="0.50"/>
<circle cx="473.8" cy="113.1" r="0.39" fill="#E01515" opacity="0.42"/>
<circle cx="508.6" cy="103.7" r="0.49" fill="#E01515" opacity="0.53"/>
<circle cx="502.3" cy="118.0" r="0.41" fill="#E01515" opacity="0.29"/>
<circle cx="479.9" cy="64.6" r="0.4" fill="#E01515" opacity="0.62"/>
<circle cx="503.7" cy="69.5" r="0.51" fill="#E01515" opacity="0.42"/>
<circle cx="505.4" cy="84.7" r="0.42" fill="#E01515" opacity="0.37"/>
<circle cx="490.4" cy="64.1" r="0.5" fill="#E01515" opacity="0.60"/>
<circle cx="483.5" cy="59.5" r="0.6" fill="#E01515" opacity="0.46"/>
<circle cx="470.4" cy="41.4" r="0.38" fill="#E01515" opacity="0.50"/>
<circle cx="500.2" cy="80.8" r="0.37" fill="#E01515" opacity="0.42"/>
<circle cx="508.8" cy="92.1" r="0.59" fill="#E01515" opacity="0.59"/>
<circle cx="467.0" cy="112.2" r="0.52" fill="#E01515" opacity="0.47"/>
<circle cx="477.8" cy="103.8" r="0.38" fill="#E01515" opacity="0.44"/>
<circle cx="485.8" cy="136.7" r="0.57" fill="#E01515" opacity="0.38"/>
<circle cx="487.8" cy="55.3" r="0.58" fill="#E01515" opacity="0.59"/>
<circle cx="479.2" cy="103.6" r="0.5" fill="#E01515" opacity="0.34"/>
<circle cx="498.9" cy="93.1" r="0.54" fill="#E01515" opacity="0.47"/>
<circle cx="466.5" cy="70.5" r="0.35" fill="#E01515" opacity="0.62"/>
<circle cx="503.8" cy="123.8" r="0.43" fill="#E01515" opacity="0.30"/>
<circle cx="503.8" cy="135.9" r="0.37" fill="#E01515" opacity="0.46"/>
<circle cx="469.4" cy="116.4" r="0.54" fill="#E01515" opacity="0.33"/>
<circle cx="486.7" cy="94.2" r="0.42" fill="#E01515" opacity="0.59"/>
<circle cx="484.5" cy="58.7" r="0.48" fill="#E01515" opacity="0.54"/>
<circle cx="475.0" cy="69.2" r="0.6" fill="#E01515" opacity="0.51"/>
<circle cx="485.1" cy="90.8" r="0.38" fill="#E01515" opacity="0.36"/>
<circle cx="480.9" cy="98.3" r="0.41" fill="#E01515" opacity="0.36"/>
<circle cx="469.5" cy="102.8" r="0.41" fill="#E01515" opacity="0.61"/>
<circle cx="503.0" cy="43.9" r="0.41" fill="#E01515" opacity="0.52"/>
<circle cx="475.6" cy="50.4" r="0.58" fill="#E01515" opacity="0.49"/>
<circle cx="486.6" cy="118.9" r="0.55" fill="#E01515" opacity="0.35"/>
<circle cx="470.6" cy="81.8" r="0.46" fill="#E01515" opacity="0.45"/>
<circle cx="497.5" cy="107.2" r="0.6" fill="#E01515" opacity="0.31"/>
<circle cx="483.6" cy="72.1" r="0.57" fill="#E01515" opacity="0.37"/>
<circle cx="474.6" cy="83.6" r="0.46" fill="#E01515" opacity="0.38"/>
<circle cx="477.1" cy="133.4" r="0.46" fill="#E01515" opacity="0.59"/>
<circle cx="489.9" cy="41.8" r="0.6" fill="#E01515" opacity="0.58"/>
<circle cx="507.7" cy="133.8" r="0.56" fill="#E01515" opacity="0.34"/>
<circle cx="487.1" cy="58.9" r="0.45" fill="#E01515" opacity="0.30"/>
<circle cx="482.6" cy="140.0" r="0.42" fill="#E01515" opacity="0.56"/>
<circle cx="485.8" cy="80.9" r="0.59" fill="#E01515" opacity="0.64"/>
<circle cx="490.1" cy="111.9" r="0.39" fill="#E01515" opacity="0.38"/>
</g>
<circle cx="492.5" cy="112.5" r="0.8" fill="#E8E830" filter="url(#b1)"/>
<circle cx="491.5" cy="121" r="0.8" fill="#E8E830" filter="url(#b1)"/>
</g>
<g clip-path="url(#cc2)">
<g filter="url(#b1)">
<path d="M533.8,34.9 L533.1,35.9 L532.9,36.9 L533.0,37.9 L533.1,38.9 L532.8,39.9 L532.5,40.8 L532.4,41.8 L532.3,42.8 L532.4,43.8 L532.3,44.8 L532.3,45.7 L532.2,46.7 L532.1,47.7 L532.4,48.8 L532.5,49.8 L532.6,50.8 L532.0,51.8 L531.5,52.7 L531.1,53.7 L531.3,54.7 L531.3,55.7 L531.2,56.7 L530.8,57.7 L530.7,58.7 L530.5,59.7 L530.5,60.7 L530.2,61.7 L530.1,62.8 L529.8,63.8 L529.6,64.8 L529.3,65.7 L529.3,66.7 L529.7,67.8 L530.0,68.8 L530.0,69.9 L529.6,70.9 L529.4,71.9 L529.3,73.0 L529.0,74.0 L528.8,75.0 L528.7,76.0 L529.0,77.0 L529.2,78.0 L529.5,79.1 L529.4,80.1 L529.6,81.2 L529.6,82.2 L529.8,83.2 L529.4,84.3 L529.0,85.3 L528.8,86.3 L529.2,87.3 L529.9,88.2 L530.6,89.2 L530.8,90.2 L530.8,91.2 L530.6,92.2 L530.6,93.2 L530.2,94.3 L530.4,95.3 L530.6,96.3 L531.3,97.2 L531.7,98.1 L532.0,99.1 L531.8,100.1 L531.7,101.1 L531.3,102.2 L530.9,103.2 L530.6,104.2 L530.8,105.2 L531.4,106.1 L531.7,107.1 L531.6,108.1 L531.1,109.1 L530.8,110.1 L531.1,111.1 L531.4,112.1 L531.8,113.1 L531.9,114.0 L531.8,115.0 L531.9,116.0 L532.0,117.0 L532.0,118.0 L532.0,118.9 L531.7,119.9 L531.6,120.9 L531.4,121.9 L531.5,122.9 L531.9,123.9 L532.3,124.9 L532.4,125.9 L532.2,126.9 L531.5,127.9 L531.1,128.9 L530.6,129.9 L530.3,130.9 L530.2,131.9 L530.6,132.9 L531.5,134.0 L531.9,135.0 L531.7,136.0 L530.8,137.0 L530.0,138.0 L529.2,139.0 L529.1,140.0 L528.8,141.0 L528.2,142.0 L526.6,143.0 L540.2,143.0 L539.9,142.0 L539.6,141.0 L539.4,140.0 L539.0,139.0 L538.9,138.0 L538.5,137.0 L538.2,136.0 L537.7,135.0 L537.9,134.1 L538.1,133.1 L538.1,132.1 L537.7,131.1 L537.5,130.1 L537.5,129.1 L537.5,128.1 L537.5,127.1 L537.4,126.1 L537.4,125.1 L537.2,124.1 L537.3,123.1 L537.0,122.1 L537.1,121.1 L537.0,120.1 L537.2,119.1 L537.1,118.0 L537.3,117.0 L537.7,116.0 L537.8,115.0 L537.6,113.9 L537.4,112.9 L537.5,111.9 L537.8,110.9 L538.2,109.9 L538.4,108.9 L538.5,107.9 L538.4,106.8 L538.0,105.8 L537.5,104.8 L537.1,103.8 L537.2,102.8 L537.6,101.8 L537.5,100.8 L537.2,99.8 L536.8,98.8 L536.8,97.8 L537.0,96.7 L537.3,95.7 L537.3,94.7 L537.2,93.7 L537.1,92.7 L537.0,91.7 L537.0,90.7 L536.8,89.7 L536.5,88.7 L536.0,87.8 L535.7,86.8 L535.8,85.8 L536.3,84.7 L536.7,83.7 L536.6,82.7 L536.1,81.7 L535.5,80.8 L535.1,79.9 L535.2,78.9 L535.3,78.0 L535.1,77.0 L534.8,76.0 L534.8,75.0 L535.2,74.0 L535.6,73.0 L535.7,72.1 L535.6,71.1 L535.1,70.2 L534.8,69.2 L534.7,68.2 L534.9,67.2 L535.4,66.2 L535.7,65.2 L535.8,64.2 L535.4,63.2 L535.2,62.2 L535.1,61.2 L535.3,60.2 L535.5,59.2 L535.9,58.3 L536.4,57.3 L536.7,56.3 L536.7,55.3 L536.5,54.3 L536.3,53.3 L536.4,52.3 L536.4,51.2 L536.4,50.2 L536.5,49.2 L536.9,48.3 L537.1,47.3 L537.2,46.3 L537.3,45.2 L537.5,44.2 L537.8,43.2 L538.0,42.2 L538.3,41.2 L538.7,40.2 L538.8,39.2 L538.7,38.2 L538.1,37.2 L537.8,36.1 L537.2,35.1Z" fill="#41BE49" stroke="#41BE49" stroke-width="0.6" stroke-linejoin="round"/>
<line x1="535.3" y1="38.0" x2="540.9" y2="40.4" stroke="#41BE49" stroke-width="1.2" stroke-linecap="round"/>
<line x1="535.2" y1="41.0" x2="530.7" y2="38.5" stroke="#41BE49" stroke-width="1.7" stroke-linecap="round"/>
<line x1="535.0" y1="44.0" x2="540.8" y2="45.6" stroke="#41BE49" stroke-width="1.3" stroke-linecap="round"/>
<circle cx="540.8" cy="45.6" r="1.31" fill="#41BE49"/>
<line x1="534.3" y1="50.0" x2="538.7" y2="52.4" stroke="#41BE49" stroke-width="1.7" stroke-linecap="round"/>
<line x1="533.9" y1="54.0" x2="529.0" y2="54.3" stroke="#41BE49" stroke-width="1.3" stroke-linecap="round"/>
<circle cx="529.0" cy="54.3" r="0.86" fill="#41BE49"/>
<line x1="533.4" y1="58.0" x2="528.9" y2="58.8" stroke="#41BE49" stroke-width="1.4" stroke-linecap="round"/>
<circle cx="528.9" cy="58.8" r="1.23" fill="#41BE49"/>
<line x1="533.2" y1="60.0" x2="528.5" y2="61.4" stroke="#41BE49" stroke-width="1.6" stroke-linecap="round"/>
<circle cx="528.5" cy="61.4" r="0.83" fill="#41BE49"/>
<line x1="532.7" y1="66.0" x2="538.7" y2="66.9" stroke="#41BE49" stroke-width="1.3" stroke-linecap="round"/>
<line x1="532.3" y1="71.0" x2="527.7" y2="68.1" stroke="#41BE49" stroke-width="1.8" stroke-linecap="round"/>
<line x1="532.3" y1="73.0" x2="527.5" y2="75.0" stroke="#41BE49" stroke-width="1.6" stroke-linecap="round"/>
<circle cx="527.5" cy="75.0" r="1.29" fill="#41BE49"/>
<line x1="532.3" y1="78.0" x2="536.9" y2="80.6" stroke="#41BE49" stroke-width="1.5" stroke-linecap="round"/>
<line x1="532.6" y1="84.0" x2="539.1" y2="83.4" stroke="#41BE49" stroke-width="1.4" stroke-linecap="round"/>
<line x1="532.8" y1="87.0" x2="527.0" y2="87.6" stroke="#41BE49" stroke-width="1.2" stroke-linecap="round"/>
<line x1="533.2" y1="91.0" x2="538.2" y2="93.4" stroke="#41BE49" stroke-width="1.3" stroke-linecap="round"/>
<circle cx="538.2" cy="93.4" r="1.09" fill="#41BE49"/>
<line x1="533.6" y1="96.0" x2="538.6" y2="93.0" stroke="#41BE49" stroke-width="1.4" stroke-linecap="round"/>
<circle cx="538.6" cy="93.0" r="1.00" fill="#41BE49"/>
<line x1="533.9" y1="100.0" x2="528.0" y2="99.5" stroke="#41BE49" stroke-width="1.2" stroke-linecap="round"/>
<line x1="534.0" y1="102.0" x2="529.0" y2="104.8" stroke="#41BE49" stroke-width="1.8" stroke-linecap="round"/>
<circle cx="529.0" cy="104.8" r="1.15" fill="#41BE49"/>
<line x1="534.3" y1="109.0" x2="528.8" y2="112.6" stroke="#41BE49" stroke-width="1.5" stroke-linecap="round"/>
<line x1="534.4" y1="113.0" x2="527.9" y2="112.0" stroke="#41BE49" stroke-width="1.4" stroke-linecap="round"/>
<circle cx="527.9" cy="112.0" r="0.93" fill="#41BE49"/>
<line x1="534.5" y1="115.0" x2="529.4" y2="113.1" stroke="#41BE49" stroke-width="1.4" stroke-linecap="round"/>
<line x1="534.5" y1="118.0" x2="529.1" y2="115.2" stroke="#41BE49" stroke-width="1.3" stroke-linecap="round"/>
<circle cx="529.1" cy="115.2" r="0.93" fill="#41BE49"/>
<line x1="534.3" y1="123.0" x2="528.7" y2="124.2" stroke="#41BE49" stroke-width="1.6" stroke-linecap="round"/>
<line x1="534.2" y1="129.0" x2="539.9" y2="127.5" stroke="#41BE49" stroke-width="1.7" stroke-linecap="round"/>
<circle cx="539.9" cy="127.5" r="1.27" fill="#41BE49"/>
<line x1="534.1" y1="132.0" x2="539.7" y2="133.2" stroke="#41BE49" stroke-width="1.3" stroke-linecap="round"/>
<line x1="534.0" y1="137.0" x2="527.4" y2="137.3" stroke="#41BE49" stroke-width="1.4" stroke-linecap="round"/>
<circle cx="527.4" cy="137.3" r="1.10" fill="#41BE49"/>
<line x1="534.0" y1="141.0" x2="527.9" y2="138.5" stroke="#41BE49" stroke-width="1.2" stroke-linecap="round"/>
</g>
<path d="M535.5,35.0 L535.4,37.0 L535.3,39.0 L535.2,41.0 L535.0,43.0 L534.9,45.0 L534.7,47.0 L534.4,49.0 L534.2,51.0 L534.0,53.0 L533.8,55.0 L533.6,57.0 L533.3,59.0 L533.1,61.0 L532.9,63.0 L532.8,65.0 L532.6,67.0 L532.5,69.0 L532.3,71.0 L532.3,73.0 L532.3,75.0 L532.3,77.0 L532.3,79.0 L532.4,81.0 L532.5,83.0 L532.7,85.0 L532.8,87.0 L533.0,89.0 L533.2,91.0 L533.4,93.0 L533.5,95.0 L533.7,97.0 L533.9,99.0 L534.0,101.0 L534.1,103.0 L534.2,105.0 L534.3,107.0 L534.3,109.0 L534.4,111.0 L534.4,113.0 L534.5,115.0 L534.5,117.0 L534.4,119.0 L534.4,121.0 L534.3,123.0 L534.3,125.0 L534.2,127.0 L534.2,129.0 L534.1,131.0 L534.0,133.0 L534.0,135.0 L534.0,137.0 L534.0,139.0 L534.0,141.0 L534.0,143.0" fill="none" stroke="#76C84C" stroke-width="3.8" stroke-linecap="round" opacity="0.95" filter="url(#b2)"/>
<g filter="url(#b1)">
<circle cx="526" cy="107" r="1.0" fill="#35C932" opacity="0.7"/>
<circle cx="527" cy="132" r="1.0" fill="#35C932" opacity="0.7"/>
<circle cx="541.5" cy="75" r="0.9" fill="#35C932" opacity="0.6"/>
<circle cx="525.5" cy="98" r="0.8" fill="#35C932" opacity="0.5"/>
<circle cx="543" cy="131" r="0.8" fill="#35C932" opacity="0.5"/>
<circle cx="524" cy="135" r="0.8" fill="#35C932" opacity="0.5"/>
</g>
<g filter="url(#b3)">
<circle cx="549.5" cy="73.5" r="1.0" fill="#E01515" opacity="0.72"/>
<circle cx="541.5" cy="60.5" r="0.8" fill="#E01515" opacity="0.64"/>
<circle cx="517" cy="127" r="0.9" fill="#E01515" opacity="0.64"/>
<circle cx="520" cy="52" r="0.6" fill="#E01515" opacity="0.48"/>
<circle cx="546" cy="96" r="0.6" fill="#E01515" opacity="0.48"/>
<circle cx="515" cy="83" r="0.6" fill="#E01515" opacity="0.40"/>
<circle cx="522" cy="101" r="0.6" fill="#E01515" opacity="0.48"/>
<circle cx="548" cy="112" r="0.6" fill="#E01515" opacity="0.48"/>
<circle cx="518" cy="68" r="0.6" fill="#E01515" opacity="0.40"/>
<circle cx="544" cy="45" r="0.6" fill="#E01515" opacity="0.40"/>
<circle cx="550" cy="133" r="0.6" fill="#E01515" opacity="0.48"/>
<circle cx="513.5" cy="140" r="0.7" fill="#E01515" opacity="0.48"/>
<circle cx="524" cy="40" r="0.5" fill="#E01515" opacity="0.40"/>
<circle cx="552.2" cy="97.3" r="0.49" fill="#E01515" opacity="0.55"/>
<circle cx="513.4" cy="97.8" r="0.48" fill="#E01515" opacity="0.58"/>
<circle cx="517.7" cy="137.4" r="0.37" fill="#E01515" opacity="0.34"/>
<circle cx="536.3" cy="107.4" r="0.41" fill="#E01515" opacity="0.32"/>
<circle cx="548.8" cy="62.4" r="0.5" fill="#E01515" opacity="0.50"/>
<circle cx="528.8" cy="97.8" r="0.48" fill="#E01515" opacity="0.62"/>
<circle cx="519.7" cy="111.7" r="0.41" fill="#E01515" opacity="0.42"/>
<circle cx="539.5" cy="68.0" r="0.43" fill="#E01515" opacity="0.55"/>
<circle cx="514.1" cy="84.6" r="0.6" fill="#E01515" opacity="0.64"/>
<circle cx="514.1" cy="58.9" r="0.42" fill="#E01515" opacity="0.62"/>
<circle cx="548.4" cy="128.8" r="0.44" fill="#E01515" opacity="0.34"/>
<circle cx="546.4" cy="110.4" r="0.5" fill="#E01515" opacity="0.63"/>
<circle cx="538.8" cy="37.3" r="0.55" fill="#E01515" opacity="0.38"/>
<circle cx="539.2" cy="135.1" r="0.38" fill="#E01515" opacity="0.32"/>
<circle cx="515.5" cy="94.6" r="0.42" fill="#E01515" opacity="0.50"/>
<circle cx="541.5" cy="57.9" r="0.51" fill="#E01515" opacity="0.38"/>
<circle cx="531.8" cy="131.6" r="0.56" fill="#E01515" opacity="0.31"/>
<circle cx="529.0" cy="65.6" r="0.35" fill="#E01515" opacity="0.56"/>
<circle cx="538.1" cy="64.0" r="0.54" fill="#E01515" opacity="0.48"/>
<circle cx="529.2" cy="37.5" r="0.37" fill="#E01515" opacity="0.60"/>
<circle cx="549.4" cy="93.8" r="0.56" fill="#E01515" opacity="0.49"/>
<circle cx="517.3" cy="49.9" r="0.43" fill="#E01515" opacity="0.60"/>
<circle cx="544.8" cy="126.9" r="0.57" fill="#E01515" opacity="0.35"/>
<circle cx="521.6" cy="47.3" r="0.55" fill="#E01515" opacity="0.60"/>
<circle cx="528.3" cy="101.7" r="0.39" fill="#E01515" opacity="0.62"/>
<circle cx="547.7" cy="139.0" r="0.55" fill="#E01515" opacity="0.60"/>
<circle cx="512.1" cy="113.8" r="0.43" fill="#E01515" opacity="0.62"/>
<circle cx="545.1" cy="127.2" r="0.55" fill="#E01515" opacity="0.38"/>
<circle cx="544.5" cy="47.9" r="0.57" fill="#E01515" opacity="0.59"/>
<circle cx="520.5" cy="122.2" r="0.47" fill="#E01515" opacity="0.39"/>
<circle cx="544.8" cy="60.4" r="0.36" fill="#E01515" opacity="0.35"/>
<circle cx="525.0" cy="127.3" r="0.59" fill="#E01515" opacity="0.38"/>
<circle cx="538.3" cy="78.5" r="0.6" fill="#E01515" opacity="0.47"/>
<circle cx="550.9" cy="48.6" r="0.59" fill="#E01515" opacity="0.34"/>
<circle cx="551.9" cy="64.4" r="0.38" fill="#E01515" opacity="0.44"/>
<circle cx="542.0" cy="69.4" r="0.5" fill="#E01515" opacity="0.46"/>
<circle cx="527.4" cy="97.0" r="0.41" fill="#E01515" opacity="0.54"/>
<circle cx="511.1" cy="133.7" r="0.48" fill="#E01515" opacity="0.54"/>
<circle cx="542.5" cy="106.9" r="0.44" fill="#E01515" opacity="0.30"/>
<circle cx="539.2" cy="71.2" r="0.43" fill="#E01515" opacity="0.58"/>
<circle cx="541.6" cy="68.0" r="0.43" fill="#E01515" opacity="0.42"/>
<circle cx="528.1" cy="67.5" r="0.38" fill="#E01515" opacity="0.43"/>
<circle cx="551.0" cy="107.6" r="0.58" fill="#E01515" opacity="0.50"/>
<circle cx="523.8" cy="94.0" r="0.35" fill="#E01515" opacity="0.38"/>
<circle cx="529.3" cy="97.4" r="0.51" fill="#E01515" opacity="0.45"/>
<circle cx="529.8" cy="58.9" r="0.47" fill="#E01515" opacity="0.61"/>
<circle cx="544.8" cy="54.3" r="0.37" fill="#E01515" opacity="0.46"/>
<circle cx="537.9" cy="71.7" r="0.55" fill="#E01515" opacity="0.55"/>
<circle cx="539.6" cy="60.1" r="0.4" fill="#E01515" opacity="0.29"/>
<circle cx="521.4" cy="86.4" r="0.56" fill="#E01515" opacity="0.30"/>
<circle cx="528.6" cy="102.6" r="0.4" fill="#E01515" opacity="0.53"/>
<circle cx="532.0" cy="62.1" r="0.51" fill="#E01515" opacity="0.28"/>
<circle cx="542.9" cy="117.4" r="0.38" fill="#E01515" opacity="0.43"/>
<circle cx="518.5" cy="137.1" r="0.48" fill="#E01515" opacity="0.30"/>
<circle cx="521.6" cy="125.6" r="0.46" fill="#E01515" opacity="0.57"/>
<circle cx="539.4" cy="140.2" r="0.5" fill="#E01515" opacity="0.62"/>
<circle cx="548.9" cy="100.8" r="0.53" fill="#E01515" opacity="0.46"/>
<circle cx="546.3" cy="94.0" r="0.57" fill="#E01515" opacity="0.54"/>
<circle cx="531.2" cy="63.7" r="0.41" fill="#E01515" opacity="0.51"/>
<circle cx="543.5" cy="91.2" r="0.51" fill="#E01515" opacity="0.38"/>
</g>
<circle cx="534" cy="91" r="0.8" fill="#E8E830" filter="url(#b1)"/>
<circle cx="535.5" cy="126.5" r="0.8" fill="#E8E830" filter="url(#b1)"/>
</g>
<rect x="548.3" y="40.5" width="1.4" height="17.3" fill="#fff" stroke="none" stroke-width="1"/>
<text transform="translate(477 139.8) rotate(-90)" font-size="8.8"><tspan fill="#3C9E36">eYFP</tspan><tspan fill="#EE1C1C"> GluA2</tspan></text>
<text x="487.5" y="154.3" font-size="11.8" text-anchor="middle" fill="#000" stroke="#000" stroke-width="0.1">PI</text>
<text x="532.1" y="154.3" font-size="11.8" text-anchor="middle" fill="#000" stroke="#000" stroke-width="0.1">PA</text>
<text x="640" y="25" font-size="10" text-anchor="middle" fill="#000" stroke="#000" stroke-width="0.1">GluA2</text>
<rect x="605.8" y="129.3" width="13.400000000000091" height="10.199999999999989" fill="#D6D6D6" stroke="none" stroke-width="1"/>
<rect x="625.5" y="117.5" width="13.700000000000045" height="22.0" fill="#7F7F7F" stroke="none" stroke-width="1"/>
<rect x="645.5" y="92.5" width="13.299999999999955" height="47.0" fill="#FBDCDC" stroke="none" stroke-width="1"/>
<rect x="665" y="118" width="13" height="21.5" fill="#E8242A" stroke="none" stroke-width="1"/>
<line x1="599.2" y1="139.5" x2="680" y2="139.5" stroke="#000" stroke-width="1"/>
<line x1="599.5" y1="140.0" x2="599.5" y2="54.0" stroke="#000" stroke-width="1"/>
<line x1="597.2" y1="54.5" x2="599.7" y2="54.5" stroke="#000" stroke-width="1"/>
<text x="595.3" y="57.5" font-size="8.55" text-anchor="end" fill="#000" stroke="#000" stroke-width="0.1">0.50</text>
<line x1="597.2" y1="96.5" x2="599.7" y2="96.5" stroke="#000" stroke-width="1"/>
<text x="595.3" y="99.9" font-size="8.55" text-anchor="end" fill="#000" stroke="#000" stroke-width="0.1">0.25</text>
<line x1="597.2" y1="139.5" x2="599.7" y2="139.5" stroke="#000" stroke-width="1"/>
<text x="595.3" y="142.3" font-size="8.55" text-anchor="end" fill="#000" stroke="#000" stroke-width="0.1">0.00</text>
<text x="572.6" y="97" font-size="8.7" text-anchor="middle" fill="#000" stroke="#000" stroke-width="0.1" transform="rotate(-90 572.6 97)">Puncta density (n/μm)</text>
<line x1="612.5" y1="42.5" x2="652" y2="42.5" stroke="#000" stroke-width="1.0"/>
<path d="M628.75,39.60L628.75,38.25M628.75,39.60L630.03,39.18M628.75,39.60L629.54,40.69M628.75,39.60L627.96,40.69M628.75,39.60L627.47,39.18" stroke="#000" stroke-width="0.85" stroke-linecap="round" fill="none"/>
<circle cx="628.75" cy="39.60" r="0.75" fill="#000" stroke="none" stroke-width="0.6"/>
<path d="M632.25,39.60L632.25,38.25M632.25,39.60L633.53,39.18M632.25,39.60L633.04,40.69M632.25,39.60L631.46,40.69M632.25,39.60L630.97,39.18" stroke="#000" stroke-width="0.85" stroke-linecap="round" fill="none"/>
<circle cx="632.25" cy="39.60" r="0.75" fill="#000" stroke="none" stroke-width="0.6"/>
<path d="M635.75,39.60L635.75,38.25M635.75,39.60L637.03,39.18M635.75,39.60L636.54,40.69M635.75,39.60L634.96,40.69M635.75,39.60L634.47,39.18" stroke="#000" stroke-width="0.85" stroke-linecap="round" fill="none"/>
<circle cx="635.75" cy="39.60" r="0.75" fill="#000" stroke="none" stroke-width="0.6"/>
<rect x="632.5" y="49.1" width="18.8" height="1.5" fill="#6f6f6f" stroke="none" stroke-width="1"/>
<path d="M641.60,46.50L641.60,45.15M641.60,46.50L642.88,46.08M641.60,46.50L642.39,47.59M641.60,46.50L640.81,47.59M641.60,46.50L640.32,46.08" stroke="#000" stroke-width="0.85" stroke-linecap="round" fill="none"/>
<circle cx="641.60" cy="46.50" r="0.75" fill="#000" stroke="none" stroke-width="0.6"/>
<rect x="653.3" y="49.1" width="18.5" height="1.5" fill="#6f6f6f" stroke="none" stroke-width="1"/>
<path d="M662.30,46.50L662.30,45.15M662.30,46.50L663.58,46.08M662.30,46.50L663.09,47.59M662.30,46.50L661.51,47.59M662.30,46.50L661.02,46.08" stroke="#000" stroke-width="0.85" stroke-linecap="round" fill="none"/>
<circle cx="662.30" cy="46.50" r="0.75" fill="#000" stroke="none" stroke-width="0.6"/>
<line x1="612.5" y1="125.69999999999999" x2="612.5" y2="131.7" stroke="#111" stroke-width="0.9"/>
<line x1="609.9" y1="125.5" x2="615.1" y2="125.5" stroke="#111" stroke-width="0.9"/>
<line x1="609.9" y1="131.5" x2="615.1" y2="131.5" stroke="#111" stroke-width="0.9"/>
<circle cx="612.50" cy="117.50" r="0.98" fill="none" stroke="#111" stroke-width="0.85"/>
<circle cx="612.50" cy="126.40" r="0.98" fill="none" stroke="#111" stroke-width="0.85"/>
<circle cx="611.20" cy="131.50" r="0.98" fill="none" stroke="#111" stroke-width="0.85"/>
<circle cx="613.80" cy="131.50" r="0.98" fill="none" stroke="#111" stroke-width="0.85"/>
<circle cx="609.30" cy="134.20" r="0.98" fill="none" stroke="#111" stroke-width="0.85"/>
<circle cx="612.50" cy="134.20" r="0.98" fill="none" stroke="#111" stroke-width="0.85"/>
<circle cx="615.70" cy="134.20" r="0.98" fill="none" stroke="#111" stroke-width="0.85"/>
<line x1="632.5" y1="113.3" x2="632.5" y2="120.10000000000001" stroke="#111" stroke-width="0.9"/>
<line x1="629.6999999999999" y1="113.5" x2="634.9" y2="113.5" stroke="#111" stroke-width="0.9"/>
<line x1="629.6999999999999" y1="120.5" x2="634.9" y2="120.5" stroke="#111" stroke-width="0.9"/>
<circle cx="632.30" cy="109.00" r="1.2" fill="#111" stroke="none" stroke-width="0.6"/>
<circle cx="632.30" cy="111.20" r="1.2" fill="#111" stroke="none" stroke-width="0.6"/>
<circle cx="630.80" cy="114.30" r="1.2" fill="#111" stroke="none" stroke-width="0.6"/>
<circle cx="633.80" cy="114.30" r="1.2" fill="#111" stroke="none" stroke-width="0.6"/>
<circle cx="630.80" cy="119.50" r="1.2" fill="#111" stroke="none" stroke-width="0.6"/>
<circle cx="633.80" cy="119.50" r="1.2" fill="#111" stroke="none" stroke-width="0.6"/>
<circle cx="632.30" cy="136.20" r="1.2" fill="#111" stroke="none" stroke-width="0.6"/>
<line x1="652.5" y1="86.89999999999999" x2="652.5" y2="98.7" stroke="#111" stroke-width="0.9"/>
<line x1="649.5" y1="86.5" x2="654.7" y2="86.5" stroke="#111" stroke-width="0.9"/>
<line x1="649.5" y1="98.5" x2="654.7" y2="98.5" stroke="#111" stroke-width="0.9"/>
<circle cx="650.80" cy="60.50" r="0.98" fill="none" stroke="#111" stroke-width="0.85"/>
<circle cx="653.40" cy="60.50" r="0.98" fill="none" stroke="#111" stroke-width="0.85"/>
<circle cx="652.10" cy="68.00" r="0.98" fill="none" stroke="#111" stroke-width="0.85"/>
<circle cx="652.10" cy="70.60" r="0.98" fill="none" stroke="#111" stroke-width="0.85"/>
<circle cx="650.80" cy="93.50" r="0.98" fill="none" stroke="#111" stroke-width="0.85"/>
<circle cx="653.40" cy="93.50" r="0.98" fill="none" stroke="#111" stroke-width="0.85"/>
<circle cx="649.50" cy="98.80" r="0.98" fill="none" stroke="#111" stroke-width="0.85"/>
<circle cx="652.10" cy="98.80" r="0.98" fill="none" stroke="#111" stroke-width="0.85"/>
<circle cx="654.70" cy="98.80" r="0.98" fill="none" stroke="#111" stroke-width="0.85"/>
<circle cx="650.80" cy="102.00" r="0.98" fill="none" stroke="#111" stroke-width="0.85"/>
<circle cx="653.40" cy="102.00" r="0.98" fill="none" stroke="#111" stroke-width="0.85"/>
<circle cx="650.80" cy="105.40" r="0.98" fill="none" stroke="#111" stroke-width="0.85"/>
<circle cx="653.40" cy="105.40" r="0.98" fill="none" stroke="#111" stroke-width="0.85"/>
<circle cx="652.10" cy="113.90" r="0.98" fill="none" stroke="#111" stroke-width="0.85"/>
<circle cx="652.10" cy="120.00" r="0.98" fill="none" stroke="#111" stroke-width="0.85"/>
<line x1="671.5" y1="112.30000000000001" x2="671.5" y2="124.5" stroke="#111" stroke-width="0.9"/>
<line x1="668.9" y1="112.5" x2="674.1" y2="112.5" stroke="#111" stroke-width="0.9"/>
<line x1="668.9" y1="124.5" x2="674.1" y2="124.5" stroke="#111" stroke-width="0.9"/>
<circle cx="671.50" cy="91.40" r="0.98" fill="none" stroke="#111" stroke-width="0.85"/>
<circle cx="671.50" cy="108.60" r="0.98" fill="none" stroke="#111" stroke-width="0.85"/>
<circle cx="671.50" cy="111.20" r="1.2" fill="#111" stroke="none" stroke-width="0.6"/>
<circle cx="671.50" cy="113.90" r="1.2" fill="#111" stroke="none" stroke-width="0.6"/>
<circle cx="670.20" cy="119.00" r="1.2" fill="#111" stroke="none" stroke-width="0.6"/>
<circle cx="672.80" cy="119.00" r="1.2" fill="#111" stroke="none" stroke-width="0.6"/>
<circle cx="671.50" cy="126.50" r="1.2" fill="#111" stroke="none" stroke-width="0.6"/>
<circle cx="671.50" cy="131.80" r="1.2" fill="#111" stroke="none" stroke-width="0.6"/>
<circle cx="671.50" cy="136.50" r="1.2" fill="#111" stroke="none" stroke-width="0.6"/>
<text x="611.2" y="152.6" font-size="11.8" text-anchor="middle" fill="#000" stroke="#000" stroke-width="0.1">PI</text>
<text x="632.5" y="152.6" font-size="11.8" text-anchor="middle" fill="#000" stroke="#000" stroke-width="0.1">PA</text>
<text x="651.8" y="153.2" font-size="11.8" text-anchor="middle" fill="#000" stroke="#000" stroke-width="0.1">PI</text>
<text x="673.2" y="153.2" font-size="11.8" text-anchor="middle" fill="#000" stroke="#000" stroke-width="0.1">PA</text>
<line x1="605.3" y1="157.5" x2="640" y2="157.5" stroke="#000" stroke-width="1.0"/>
<rect x="646.2" y="157.4" width="34.4" height="1.4" fill="#858585" stroke="none" stroke-width="1"/>
<text x="620.8" y="168.8" font-size="8.7" text-anchor="middle" fill="#000" stroke="#000" stroke-width="0.1">Cont</text>
<text x="661.8" y="169.6" font-size="9.0" text-anchor="middle" fill="#000" stroke="#000" stroke-width="0.1">cKD</text>
<text x="641.2" y="179.8" font-size="8.7" text-anchor="middle" fill="#000" stroke="#000" stroke-width="0.1">+ cocaine</text>
<text x="46.8" y="213.8" font-size="11.1" text-anchor="middle" fill="#000" stroke="#000" stroke-width="0.1">cocaine/cKD</text>
<text x="29.5" y="230.8" font-size="8.8" text-anchor="middle" fill="#000" stroke="#000" stroke-width="0.1">PI</text>
<text x="59.3" y="230.8" font-size="8.8" text-anchor="middle" fill="#000" stroke="#000" stroke-width="0.1">PA</text>
<g fill="none" stroke="#0a0a0a" stroke-width="0.9" stroke-linejoin="round">
<path d="M15.5,271 C16,262 17.5,246 20,240.6 C22,243.5 24.5,246.5 27.5,249.2 C32,253 37,256.5 41.3,258.8"/>
<path d="M15.5,271 C15.8,285 16.2,310 16.6,327 C17,306 17.8,288 20,280 C22.5,274 27,272.2 32,271.6 L41.3,271.2"/>
<path d="M23,274.6 C27,272.3 33,271.5 41,271.2" stroke-width="1.3"/>
<path d="M48.8,271 C49.5,262 51,248 53.3,244.6 C55.5,245.8 57,247.2 59,248 C60,248.3 60.6,247.9 61.3,248.6 C65,250.5 70,253 73.8,255.2"/>
<path d="M48.8,271 C49.6,283 50.9,300 51.8,313.6 C52.4,298 53.3,286 55.5,279.5 C58,274.5 63,273 68,272.4 L73.8,272"/>
</g>
<g fill="#EE1C25">
<polygon points="27.5,243 29.2,245.8 25.8,245.8"/>
<polygon points="61.3,244.8 63,247.6 59.6,247.6"/>
<polygon points="16.6,327.3 18.3,330.3 14.9,330.3"/>
<polygon points="51.8,314 53.5,317 50.1,317"/>
</g>
<path d="M75.8,286.5 L86,286.5 L86,276" fill="none" stroke="#333" stroke-width="1.1"/>
<text x="73.2" y="296.5" font-size="9.0" text-anchor="start" fill="#000" stroke="#000" stroke-width="0.1">30</text>
<text x="73.6" y="306.8" font-size="9.0" text-anchor="start" fill="#000" stroke="#000" stroke-width="0.1">ms</text>
<text x="93.8" y="285.8" font-size="8.4" text-anchor="start" fill="#000" stroke="#000" stroke-width="0.1" transform="rotate(-90 93.8 285.8)">50 pA</text>
<text x="158.8" y="213.8" font-size="10" text-anchor="middle" fill="#000" stroke="#000" stroke-width="0.1">A/N ratio</text>
<rect x="123.4" y="292" width="13.5" height="22.30000000000001" fill="#D6D6D6" stroke="none" stroke-width="1"/>
<rect x="143" y="292.5" width="13.800000000000011" height="21.80000000000001" fill="#7F7F7F" stroke="none" stroke-width="1"/>
<rect x="163" y="279.5" width="13.300000000000011" height="34.80000000000001" fill="#FBDCDC" stroke="none" stroke-width="1"/>
<rect x="182.5" y="294.3" width="13.300000000000011" height="20.0" fill="#E8242A" stroke="none" stroke-width="1"/>
<line x1="116.5" y1="314.5" x2="202.5" y2="314.5" stroke="#000" stroke-width="1"/>
<rect x="116.25" y="228.3" width="1.5" height="86.5" fill="#7d7d7d" stroke="none" stroke-width="1"/>
<line x1="114.5" y1="228.5" x2="117.0" y2="228.5" stroke="#000" stroke-width="1"/>
<text x="113.7" y="231.8" font-size="8.55" text-anchor="end" fill="#000" stroke="#000" stroke-width="0.1">6</text>
<line x1="114.5" y1="257.5" x2="117.0" y2="257.5" stroke="#000" stroke-width="1"/>
<text x="113.7" y="260.4" font-size="8.55" text-anchor="end" fill="#000" stroke="#000" stroke-width="0.1">4</text>
<line x1="114.5" y1="286.5" x2="117.0" y2="286.5" stroke="#000" stroke-width="1"/>
<text x="113.7" y="289" font-size="8.55" text-anchor="end" fill="#000" stroke="#000" stroke-width="0.1">2</text>
<line x1="114.5" y1="314.5" x2="117.0" y2="314.5" stroke="#000" stroke-width="1"/>
<text x="113.7" y="317.3" font-size="8.55" text-anchor="end" fill="#000" stroke="#000" stroke-width="0.1">0</text>
<line x1="130" y1="230.5" x2="170" y2="230.5" stroke="#000" stroke-width="1.0"/>
<path d="M150.00,227.60L150.00,226.25M150.00,227.60L151.28,227.18M150.00,227.60L150.79,228.69M150.00,227.60L149.21,228.69M150.00,227.60L148.72,227.18" stroke="#000" stroke-width="0.85" stroke-linecap="round" fill="none"/>
<circle cx="150.00" cy="227.60" r="0.75" fill="#000" stroke="none" stroke-width="0.6"/>
<line x1="150" y1="241.5" x2="169.3" y2="241.5" stroke="#000" stroke-width="1.0"/>
<path d="M156.15,238.60L156.15,237.25M156.15,238.60L157.43,238.18M156.15,238.60L156.94,239.69M156.15,238.60L155.36,239.69M156.15,238.60L154.87,238.18" stroke="#000" stroke-width="0.85" stroke-linecap="round" fill="none"/>
<circle cx="156.15" cy="238.60" r="0.75" fill="#000" stroke="none" stroke-width="0.6"/>
<path d="M159.65,238.60L159.65,237.25M159.65,238.60L160.93,238.18M159.65,238.60L160.44,239.69M159.65,238.60L158.86,239.69M159.65,238.60L158.37,238.18" stroke="#000" stroke-width="0.85" stroke-linecap="round" fill="none"/>
<circle cx="159.65" cy="238.60" r="0.75" fill="#000" stroke="none" stroke-width="0.6"/>
<path d="M163.15,238.60L163.15,237.25M163.15,238.60L164.43,238.18M163.15,238.60L163.94,239.69M163.15,238.60L162.36,239.69M163.15,238.60L161.87,238.18" stroke="#000" stroke-width="0.85" stroke-linecap="round" fill="none"/>
<circle cx="163.15" cy="238.60" r="0.75" fill="#000" stroke="none" stroke-width="0.6"/>
<line x1="170.8" y1="241.5" x2="189.5" y2="241.5" stroke="#000" stroke-width="1.0"/>
<path d="M178.40,238.60L178.40,237.25M178.40,238.60L179.68,238.18M178.40,238.60L179.19,239.69M178.40,238.60L177.61,239.69M178.40,238.60L177.12,238.18" stroke="#000" stroke-width="0.85" stroke-linecap="round" fill="none"/>
<circle cx="178.40" cy="238.60" r="0.75" fill="#000" stroke="none" stroke-width="0.6"/>
<path d="M181.90,238.60L181.90,237.25M181.90,238.60L183.18,238.18M181.90,238.60L182.69,239.69M181.90,238.60L181.11,239.69M181.90,238.60L180.62,238.18" stroke="#000" stroke-width="0.85" stroke-linecap="round" fill="none"/>
<circle cx="181.90" cy="238.60" r="0.75" fill="#000" stroke="none" stroke-width="0.6"/>
<line x1="130.5" y1="289.40000000000003" x2="130.5" y2="294.2" stroke="#111" stroke-width="0.9"/>
<line x1="127.80000000000001" y1="289.5" x2="133.0" y2="289.5" stroke="#111" stroke-width="0.9"/>
<line x1="127.80000000000001" y1="294.5" x2="133.0" y2="294.5" stroke="#111" stroke-width="0.9"/>
<circle cx="125.80" cy="282.20" r="1.15" fill="#111" stroke="none" stroke-width="0.6"/>
<circle cx="130.40" cy="283.40" r="1.15" fill="#111" stroke="none" stroke-width="0.6"/>
<circle cx="133.40" cy="283.90" r="1.15" fill="#111" stroke="none" stroke-width="0.6"/>
<circle cx="130.40" cy="286.50" r="1.15" fill="#111" stroke="none" stroke-width="0.6"/>
<circle cx="128.80" cy="291.20" r="1.15" fill="#111" stroke="none" stroke-width="0.6"/>
<circle cx="131.60" cy="292.90" r="1.15" fill="#111" stroke="none" stroke-width="0.6"/>
<circle cx="130.80" cy="289.20" r="1.15" fill="#111" stroke="none" stroke-width="0.6"/>
<circle cx="130.40" cy="296.90" r="1.15" fill="#111" stroke="none" stroke-width="0.6"/>
<circle cx="130.40" cy="301.10" r="1.15" fill="#111" stroke="none" stroke-width="0.6"/>
<circle cx="130.40" cy="308.20" r="1.15" fill="#111" stroke="none" stroke-width="0.6"/>
<line x1="149.5" y1="290.0" x2="149.5" y2="294.0" stroke="#111" stroke-width="0.9"/>
<line x1="147.3" y1="290.5" x2="152.5" y2="290.5" stroke="#111" stroke-width="0.9"/>
<line x1="147.3" y1="294.5" x2="152.5" y2="294.5" stroke="#111" stroke-width="0.9"/>
<circle cx="148.60" cy="281.00" r="0.98" fill="none" stroke="#111" stroke-width="0.85"/>
<circle cx="151.20" cy="281.00" r="0.98" fill="none" stroke="#111" stroke-width="0.85"/>
<circle cx="148.60" cy="283.50" r="0.98" fill="none" stroke="#111" stroke-width="0.85"/>
<circle cx="151.20" cy="283.50" r="0.98" fill="none" stroke="#111" stroke-width="0.85"/>
<circle cx="147.30" cy="286.50" r="0.98" fill="none" stroke="#111" stroke-width="0.85"/>
<circle cx="149.90" cy="286.50" r="0.98" fill="none" stroke="#111" stroke-width="0.85"/>
<circle cx="152.50" cy="286.50" r="0.98" fill="none" stroke="#111" stroke-width="0.85"/>
<circle cx="144.50" cy="289.30" r="0.98" fill="none" stroke="#111" stroke-width="0.85"/>
<circle cx="147.20" cy="289.30" r="0.98" fill="none" stroke="#111" stroke-width="0.85"/>
<circle cx="149.90" cy="289.30" r="0.98" fill="none" stroke="#111" stroke-width="0.85"/>
<circle cx="152.60" cy="289.30" r="0.98" fill="none" stroke="#111" stroke-width="0.85"/>
<circle cx="155.30" cy="289.30" r="0.98" fill="none" stroke="#111" stroke-width="0.85"/>
<circle cx="148.60" cy="292.90" r="0.98" fill="none" stroke="#111" stroke-width="0.85"/>
<circle cx="151.20" cy="292.90" r="0.98" fill="none" stroke="#111" stroke-width="0.85"/>
<circle cx="148.60" cy="295.20" r="0.98" fill="none" stroke="#111" stroke-width="0.85"/>
<circle cx="151.20" cy="295.20" r="0.98" fill="none" stroke="#111" stroke-width="0.85"/>
<circle cx="149.90" cy="297.60" r="0.98" fill="none" stroke="#111" stroke-width="0.85"/>
<circle cx="148.60" cy="300.00" r="0.98" fill="none" stroke="#111" stroke-width="0.85"/>
<circle cx="151.20" cy="300.00" r="0.98" fill="none" stroke="#111" stroke-width="0.85"/>
<circle cx="149.90" cy="302.30" r="0.98" fill="none" stroke="#111" stroke-width="0.85"/>
<circle cx="149.90" cy="304.70" r="0.98" fill="none" stroke="#111" stroke-width="0.85"/>
<circle cx="149.90" cy="306.60" r="0.98" fill="none" stroke="#111" stroke-width="0.85"/>
<line x1="169.5" y1="276.5" x2="169.5" y2="281.9" stroke="#111" stroke-width="0.9"/>
<line x1="167.0" y1="276.5" x2="172.2" y2="276.5" stroke="#111" stroke-width="0.9"/>
<line x1="167.0" y1="281.5" x2="172.2" y2="281.5" stroke="#111" stroke-width="0.9"/>
<circle cx="169.60" cy="245.60" r="0.98" fill="none" stroke="#111" stroke-width="0.85"/>
<circle cx="168.10" cy="265.70" r="1.15" fill="#111" stroke="none" stroke-width="0.6"/>
<circle cx="171.10" cy="265.70" r="1.15" fill="#111" stroke="none" stroke-width="0.6"/>
<circle cx="169.60" cy="270.90" r="1.15" fill="#111" stroke="none" stroke-width="0.6"/>
<circle cx="169.60" cy="272.90" r="1.15" fill="#111" stroke="none" stroke-width="0.6"/>
<circle cx="167.00" cy="277.50" r="1.15" fill="#111" stroke="none" stroke-width="0.6"/>
<circle cx="169.60" cy="277.50" r="1.15" fill="#111" stroke="none" stroke-width="0.6"/>
<circle cx="172.20" cy="277.50" r="1.15" fill="#111" stroke="none" stroke-width="0.6"/>
<circle cx="168.30" cy="281.00" r="1.15" fill="#111" stroke="none" stroke-width="0.6"/>
<circle cx="170.90" cy="281.00" r="1.15" fill="#111" stroke="none" stroke-width="0.6"/>
<circle cx="163.80" cy="284.10" r="1.15" fill="#111" stroke="none" stroke-width="0.6"/>
<circle cx="166.70" cy="284.10" r="1.15" fill="#111" stroke="none" stroke-width="0.6"/>
<circle cx="169.60" cy="284.10" r="1.15" fill="#111" stroke="none" stroke-width="0.6"/>
<circle cx="172.50" cy="284.10" r="1.15" fill="#111" stroke="none" stroke-width="0.6"/>
<circle cx="175.40" cy="284.10" r="1.15" fill="#111" stroke="none" stroke-width="0.6"/>
<circle cx="167.10" cy="285.90" r="1.15" fill="#111" stroke="none" stroke-width="0.6"/>
<circle cx="172.10" cy="285.90" r="1.15" fill="#111" stroke="none" stroke-width="0.6"/>
<circle cx="169.60" cy="287.40" r="1.15" fill="#111" stroke="none" stroke-width="0.6"/>
<line x1="189.5" y1="291.59999999999997" x2="189.5" y2="296.8" stroke="#111" stroke-width="0.9"/>
<line x1="186.6" y1="291.5" x2="191.79999999999998" y2="291.5" stroke="#111" stroke-width="0.9"/>
<line x1="186.6" y1="296.5" x2="191.79999999999998" y2="296.5" stroke="#111" stroke-width="0.9"/>
<circle cx="187.70" cy="283.40" r="1.15" fill="#111" stroke="none" stroke-width="0.6"/>
<circle cx="190.70" cy="283.40" r="1.15" fill="#111" stroke="none" stroke-width="0.6"/>
<circle cx="187.70" cy="287.00" r="1.15" fill="#111" stroke="none" stroke-width="0.6"/>
<circle cx="190.70" cy="287.00" r="1.15" fill="#111" stroke="none" stroke-width="0.6"/>
<circle cx="189.20" cy="289.80" r="1.15" fill="#111" stroke="none" stroke-width="0.6"/>
<circle cx="187.90" cy="295.20" r="1.15" fill="#111" stroke="none" stroke-width="0.6"/>
<circle cx="190.50" cy="295.20" r="1.15" fill="#111" stroke="none" stroke-width="0.6"/>
<circle cx="189.20" cy="297.60" r="1.15" fill="#111" stroke="none" stroke-width="0.6"/>
<circle cx="187.90" cy="301.10" r="1.15" fill="#111" stroke="none" stroke-width="0.6"/>
<circle cx="190.50" cy="301.10" r="1.15" fill="#111" stroke="none" stroke-width="0.6"/>
<circle cx="187.90" cy="304.00" r="1.15" fill="#111" stroke="none" stroke-width="0.6"/>
<circle cx="190.50" cy="304.00" r="1.15" fill="#111" stroke="none" stroke-width="0.6"/>
<circle cx="187.90" cy="307.50" r="1.15" fill="#111" stroke="none" stroke-width="0.6"/>
<circle cx="190.50" cy="307.50" r="1.15" fill="#111" stroke="none" stroke-width="0.6"/>
<text x="129.3" y="326.9" font-size="11.8" text-anchor="middle" fill="#000" stroke="#000" stroke-width="0.1">PI</text>
<text x="149.8" y="326.9" font-size="11.8" text-anchor="middle" fill="#000" stroke="#000" stroke-width="0.1">PA</text>
<text x="169.0" y="327.4" font-size="11.8" text-anchor="middle" fill="#000" stroke="#000" stroke-width="0.1">PI</text>
<text x="189.5" y="327.4" font-size="11.8" text-anchor="middle" fill="#000" stroke="#000" stroke-width="0.1">PA</text>
<line x1="123.3" y1="331.5" x2="157.4" y2="331.5" stroke="#000" stroke-width="1.0"/>
<line x1="162.8" y1="332.5" x2="197" y2="332.5" stroke="#333" stroke-width="1.0"/>
<text x="139.9" y="342.6" font-size="9.5" text-anchor="middle" fill="#000" stroke="#000" stroke-width="0.1">Cont</text>
<text x="179.2" y="342.6" font-size="9.5" text-anchor="middle" fill="#000" stroke="#000" stroke-width="0.1">cKD</text>
<text x="160.3" y="354.8" font-size="8.7" text-anchor="middle" fill="#000" stroke="#000" stroke-width="0.1">+ cocaine</text>
<text x="261.4" y="213.8" font-size="8.7" text-anchor="middle" fill="#000" stroke="#000" stroke-width="0.1">CPP Score (%)</text>
<rect x="235.2" y="313.9" width="49.3" height="1.6" fill="#7d7d7d" stroke="none" stroke-width="1"/>
<line x1="235.5" y1="315.0" x2="235.5" y2="230.0" stroke="#000" stroke-width="1"/>
<line x1="234.1" y1="230.5" x2="235.7" y2="230.5" stroke="#000" stroke-width="1"/>
<text x="233.2" y="233.5" font-size="8.55" text-anchor="end" fill="#000" stroke="#000" stroke-width="0.1">40</text>
<line x1="234.1" y1="258.5" x2="235.7" y2="258.5" stroke="#000" stroke-width="1"/>
<text x="233.2" y="261.6" font-size="8.55" text-anchor="end" fill="#000" stroke="#000" stroke-width="0.1">20</text>
<line x1="234.1" y1="286.5" x2="235.7" y2="286.5" stroke="#000" stroke-width="1"/>
<text x="233.2" y="289.2" font-size="8.55" text-anchor="end" fill="#000" stroke="#000" stroke-width="0.1">0</text>
<line x1="234.1" y1="314.5" x2="235.7" y2="314.5" stroke="#000" stroke-width="1"/>
<text x="233.2" y="317.5" font-size="8.55" text-anchor="end" fill="#000" stroke="#000" stroke-width="0.1">-20</text>
<line x1="249.5" y1="228.5" x2="270.8" y2="228.5" stroke="#000" stroke-width="0.9"/>
<path d="M259.70,222.00L259.70,220.65M259.70,222.00L260.98,221.58M259.70,222.00L260.49,223.09M259.70,222.00L258.91,223.09M259.70,222.00L258.42,221.58" stroke="#000" stroke-width="0.85" stroke-linecap="round" fill="none"/>
<circle cx="259.70" cy="222.00" r="0.75" fill="#000" stroke="none" stroke-width="0.6"/>
<line x1="242.5" y1="276.5" x2="256.8" y2="276.5" stroke="#ED2A30" stroke-width="0.9"/>
<line x1="249.5" y1="268.8" x2="249.5" y2="283.8" stroke="#ED2A30" stroke-width="0.9"/>
<line x1="246.2" y1="268.5" x2="252.8" y2="268.5" stroke="#ED2A30" stroke-width="0.9"/>
<line x1="246.2" y1="283.5" x2="252.8" y2="283.5" stroke="#ED2A30" stroke-width="0.9"/>
<circle cx="249.50" cy="259.80" r="1.05" fill="#fff" stroke="#ED2A30" stroke-width="0.75"/>
<circle cx="249.50" cy="262.60" r="1.05" fill="#fff" stroke="#ED2A30" stroke-width="0.75"/>
<circle cx="249.50" cy="275.00" r="1.25" fill="#ED2A30" stroke="none" stroke-width="0.6"/>
<circle cx="249.50" cy="280.00" r="1.25" fill="#ED2A30" stroke="none" stroke-width="0.6"/>
<circle cx="249.50" cy="302.70" r="1.05" fill="#fff" stroke="#ED2A30" stroke-width="0.75"/>
<line x1="263.8" y1="249.5" x2="277.5" y2="249.5" stroke="#ED2A30" stroke-width="0.9"/>
<line x1="270.5" y1="245.6" x2="270.5" y2="253.4" stroke="#ED2A30" stroke-width="0.9"/>
<line x1="267.3" y1="245.5" x2="273.90000000000003" y2="245.5" stroke="#ED2A30" stroke-width="0.9"/>
<line x1="267.3" y1="253.5" x2="273.90000000000003" y2="253.5" stroke="#ED2A30" stroke-width="0.9"/>
<circle cx="270.60" cy="233.80" r="1.25" fill="#ED2A30" stroke="none" stroke-width="0.6"/>
<circle cx="270.60" cy="240.80" r="1.25" fill="#ED2A30" stroke="none" stroke-width="0.6"/>
<circle cx="270.60" cy="245.50" r="1.25" fill="#ED2A30" stroke="none" stroke-width="0.6"/>
<circle cx="270.60" cy="255.00" r="1.25" fill="#ED2A30" stroke="none" stroke-width="0.6"/>
<circle cx="272.20" cy="260.00" r="1.25" fill="#ED2A30" stroke="none" stroke-width="0.6"/>
<circle cx="268.30" cy="261.50" r="1.25" fill="#ED2A30" stroke="none" stroke-width="0.6"/>
<circle cx="272.60" cy="261.20" r="1.25" fill="#ED2A30" stroke="none" stroke-width="0.6"/>
<text x="249.3" y="327.2" font-size="11.7" text-anchor="middle" fill="#000" stroke="#000" stroke-width="0.1">PI</text>
<text x="267.6" y="327.2" font-size="11.7" text-anchor="middle" fill="#000" stroke="#000" stroke-width="0.1">PA</text>
<line x1="243" y1="332.5" x2="277" y2="332.5" stroke="#000" stroke-width="0.9"/>
<text x="259.5" y="343.3" font-size="10.8" text-anchor="middle" fill="#000" stroke="#000" stroke-width="0.1">cKD</text>
<text x="321.3" y="248.8" font-size="8.6" text-anchor="start" fill="#000" stroke="#000" stroke-width="0.1">+Light</text>
<rect x="318" y="252" width="28.3" height="29.3" fill="#6FCBE9" stroke="none" stroke-width="1"/>
<line x1="316.8" y1="266.5" x2="348" y2="266.5" stroke="#000" stroke-width="0.9"/>
<line x1="316.5" y1="263.6" x2="316.5" y2="270" stroke="#000" stroke-width="0.9"/>
<line x1="325.5" y1="263.6" x2="325.5" y2="270" stroke="#000" stroke-width="0.9"/>
<line x1="331.5" y1="263.6" x2="331.5" y2="270" stroke="#000" stroke-width="0.9"/>
<line x1="338.5" y1="263.6" x2="338.5" y2="270" stroke="#000" stroke-width="0.9"/>
<line x1="344.5" y1="263.6" x2="344.5" y2="270" stroke="#000" stroke-width="0.9"/>
<polygon points="347,263.2 353.5,266.8 347,270.4" fill="#000"/>
<text x="318" y="289.2" font-size="8.6" text-anchor="start" fill="#000" stroke="#000" stroke-width="0.1">D1 ~D5</text>
<text x="438.4" y="208.8" font-size="9.7" text-anchor="middle" fill="#000" stroke="#000" stroke-width="0.1">Locomotor activity (cKD)</text>
<rect x="426.3" y="230" width="65" height="83.2" fill="#6FCBE9" stroke="none" stroke-width="1"/>
<line x1="386.8" y1="313.5" x2="491.3" y2="313.5" stroke="#000" stroke-width="1"/>
<line x1="389.5" y1="316.5" x2="389.5" y2="231.2" stroke="#000" stroke-width="1"/>
<line x1="386.8" y1="231.5" x2="389.7" y2="231.5" stroke="#000" stroke-width="1"/>
<text x="385.8" y="234.7" font-size="8.55" text-anchor="end" fill="#000" stroke="#000" stroke-width="0.1">200</text>
<line x1="386.8" y1="252.5" x2="389.7" y2="252.5" stroke="#000" stroke-width="1"/>
<text x="385.8" y="255.2" font-size="8.55" text-anchor="end" fill="#000" stroke="#000" stroke-width="0.1">150</text>
<line x1="386.8" y1="272.5" x2="389.7" y2="272.5" stroke="#000" stroke-width="1"/>
<text x="385.8" y="275.7" font-size="8.55" text-anchor="end" fill="#000" stroke="#000" stroke-width="0.1">100</text>
<line x1="386.8" y1="293.5" x2="389.7" y2="293.5" stroke="#000" stroke-width="1"/>
<text x="385.8" y="296.2" font-size="8.55" text-anchor="end" fill="#000" stroke="#000" stroke-width="0.1">50</text>
<line x1="386.8" y1="313.5" x2="389.7" y2="313.5" stroke="#000" stroke-width="1"/>
<text x="385.8" y="316.7" font-size="8.55" text-anchor="end" fill="#000" stroke="#000" stroke-width="0.1">0</text>
<text x="366.8" y="272.5" font-size="9.0" text-anchor="middle" fill="#000" stroke="#000" stroke-width="0.1" transform="rotate(-90 366.8 272.5)">Travel distance (m)</text>
<line x1="403.5" y1="313.7" x2="403.5" y2="316.8" stroke="#000" stroke-width="1"/>
<line x1="417.5" y1="313.7" x2="417.5" y2="316.8" stroke="#000" stroke-width="1"/>
<line x1="431.5" y1="313.7" x2="431.5" y2="316.8" stroke="#000" stroke-width="1"/>
<line x1="445.5" y1="313.7" x2="445.5" y2="316.8" stroke="#000" stroke-width="1"/>
<line x1="458.5" y1="313.7" x2="458.5" y2="316.8" stroke="#000" stroke-width="1"/>
<line x1="472.5" y1="313.7" x2="472.5" y2="316.8" stroke="#000" stroke-width="1"/>
<line x1="486.5" y1="313.7" x2="486.5" y2="316.8" stroke="#000" stroke-width="1"/>
<text x="428" y="239" font-size="8.6" text-anchor="start" fill="#000" stroke="#000" stroke-width="0.1">+Light</text>
<rect x="399.6" y="236.2" width="20.6" height="17.5" fill="#fff" stroke="#111" stroke-width="0.9"/>
<circle cx="404.20" cy="241.00" r="2.95" fill="#fff" stroke="#EE1C25" stroke-width="0.85"/>
<circle cx="404.20" cy="249.00" r="3.2" fill="#EE1C25" stroke="none" stroke-width="0.6"/>
<text x="409.6" y="242.8" font-size="4.8" text-anchor="start" fill="#000" stroke="#000" stroke-width="0.1">PI</text>
<text x="409.6" y="250.8" font-size="4.8" text-anchor="start" fill="#000" stroke="#000" stroke-width="0.1">PA</text>
<polyline points="403.6,300.8 417.4,301.4 431.2,282.1 445.0,275.2 458.8,266.6 472.5,260.4 486.3,255.9" fill="none" stroke="#E8353A" stroke-width="1"/>
<polyline points="403.6,300.8 417.4,301.4 431.2,292.6 445.0,294.0 458.8,296.5 472.5,295.0 486.3,295.0" fill="none" stroke="#E8353A" stroke-width="1"/>
<line x1="403.5" y1="299.18499999999995" x2="403.5" y2="302.385" stroke="#E8353A" stroke-width="0.9"/>
<line x1="402.40000000000003" y1="299.18499999999995" x2="404.8" y2="299.18499999999995" stroke="#E8353A" stroke-width="0.7"/>
<line x1="402.40000000000003" y1="302.385" x2="404.8" y2="302.385" stroke="#E8353A" stroke-width="0.7"/>
<circle cx="403.6" cy="300.8" r="1.55" fill="#C9E9F5" stroke="#E8353A" stroke-width="0.7"/>
<line x1="417.5" y1="299.79999999999995" x2="417.5" y2="303.0" stroke="#E8353A" stroke-width="0.9"/>
<line x1="416.2" y1="299.79999999999995" x2="418.59999999999997" y2="299.79999999999995" stroke="#E8353A" stroke-width="0.7"/>
<line x1="416.2" y1="303.0" x2="418.59999999999997" y2="303.0" stroke="#E8353A" stroke-width="0.7"/>
<circle cx="417.4" cy="301.4" r="1.55" fill="#C9E9F5" stroke="#E8353A" stroke-width="0.7"/>
<line x1="431.5" y1="280.73" x2="431.5" y2="283.53" stroke="#E8353A" stroke-width="0.9"/>
<line x1="430.0" y1="280.73" x2="432.4" y2="280.73" stroke="#E8353A" stroke-width="0.7"/>
<line x1="430.0" y1="283.53" x2="432.4" y2="283.53" stroke="#E8353A" stroke-width="0.7"/>
<circle cx="431.2" cy="282.1" r="1.55" fill="#C9E9F5" stroke="#E8353A" stroke-width="0.7"/>
<line x1="445.5" y1="273.76" x2="445.5" y2="276.55999999999995" stroke="#E8353A" stroke-width="0.9"/>
<line x1="443.8" y1="273.76" x2="446.2" y2="273.76" stroke="#E8353A" stroke-width="0.7"/>
<line x1="443.8" y1="276.55999999999995" x2="446.2" y2="276.55999999999995" stroke="#E8353A" stroke-width="0.7"/>
<circle cx="445" cy="275.2" r="1.55" fill="#C9E9F5" stroke="#E8353A" stroke-width="0.7"/>
<line x1="458.5" y1="264.75" x2="458.5" y2="268.35" stroke="#E8353A" stroke-width="0.9"/>
<line x1="457.6" y1="264.75" x2="460.0" y2="264.75" stroke="#E8353A" stroke-width="0.7"/>
<line x1="457.6" y1="268.35" x2="460.0" y2="268.35" stroke="#E8353A" stroke-width="0.7"/>
<circle cx="458.8" cy="266.6" r="1.55" fill="#C9E9F5" stroke="#E8353A" stroke-width="0.7"/>
<line x1="472.5" y1="259.2" x2="472.5" y2="261.59999999999997" stroke="#E8353A" stroke-width="0.9"/>
<line x1="471.3" y1="259.2" x2="473.7" y2="259.2" stroke="#E8353A" stroke-width="0.7"/>
<line x1="471.3" y1="261.59999999999997" x2="473.7" y2="261.59999999999997" stroke="#E8353A" stroke-width="0.7"/>
<circle cx="472.5" cy="260.4" r="1.55" fill="#C9E9F5" stroke="#E8353A" stroke-width="0.7"/>
<line x1="486.5" y1="253.29" x2="486.5" y2="258.49" stroke="#E8353A" stroke-width="0.9"/>
<line x1="485.1" y1="253.29" x2="487.5" y2="253.29" stroke="#E8353A" stroke-width="0.7"/>
<line x1="485.1" y1="258.49" x2="487.5" y2="258.49" stroke="#E8353A" stroke-width="0.7"/>
<circle cx="486.3" cy="255.9" r="1.55" fill="#C9E9F5" stroke="#E8353A" stroke-width="0.7"/>
<line x1="403.5" y1="299.18499999999995" x2="403.5" y2="302.385" stroke="#E8353A" stroke-width="0.9"/>
<line x1="402.40000000000003" y1="299.18499999999995" x2="404.8" y2="299.18499999999995" stroke="#E8353A" stroke-width="0.7"/>
<line x1="402.40000000000003" y1="302.385" x2="404.8" y2="302.385" stroke="#E8353A" stroke-width="0.7"/>
<circle cx="403.60" cy="300.78" r="1.9" fill="#E8353A" stroke="none" stroke-width="0.6"/>
<line x1="417.5" y1="299.79999999999995" x2="417.5" y2="303.0" stroke="#E8353A" stroke-width="0.9"/>
<line x1="416.2" y1="299.79999999999995" x2="418.59999999999997" y2="299.79999999999995" stroke="#E8353A" stroke-width="0.7"/>
<line x1="416.2" y1="303.0" x2="418.59999999999997" y2="303.0" stroke="#E8353A" stroke-width="0.7"/>
<circle cx="417.40" cy="301.40" r="1.9" fill="#E8353A" stroke="none" stroke-width="0.6"/>
<line x1="431.5" y1="291.185" x2="431.5" y2="293.98499999999996" stroke="#E8353A" stroke-width="0.9"/>
<line x1="430.0" y1="291.185" x2="432.4" y2="291.185" stroke="#E8353A" stroke-width="0.7"/>
<line x1="430.0" y1="293.98499999999996" x2="432.4" y2="293.98499999999996" stroke="#E8353A" stroke-width="0.7"/>
<circle cx="431.20" cy="292.58" r="1.9" fill="#E8353A" stroke="none" stroke-width="0.6"/>
<line x1="445.5" y1="292.82" x2="445.5" y2="295.21999999999997" stroke="#E8353A" stroke-width="0.9"/>
<line x1="443.8" y1="292.82" x2="446.2" y2="292.82" stroke="#E8353A" stroke-width="0.7"/>
<line x1="443.8" y1="295.21999999999997" x2="446.2" y2="295.21999999999997" stroke="#E8353A" stroke-width="0.7"/>
<circle cx="445.00" cy="294.02" r="1.9" fill="#E8353A" stroke="none" stroke-width="0.6"/>
<line x1="458.5" y1="294.88" x2="458.5" y2="298.08000000000004" stroke="#E8353A" stroke-width="0.9"/>
<line x1="457.6" y1="294.88" x2="460.0" y2="294.88" stroke="#E8353A" stroke-width="0.7"/>
<line x1="457.6" y1="298.08000000000004" x2="460.0" y2="298.08000000000004" stroke="#E8353A" stroke-width="0.7"/>
<circle cx="458.80" cy="296.48" r="1.9" fill="#E8353A" stroke="none" stroke-width="0.6"/>
<line x1="472.5" y1="293.245" x2="472.5" y2="296.845" stroke="#E8353A" stroke-width="0.9"/>
<line x1="471.3" y1="293.245" x2="473.7" y2="293.245" stroke="#E8353A" stroke-width="0.7"/>
<line x1="471.3" y1="296.845" x2="473.7" y2="296.845" stroke="#E8353A" stroke-width="0.7"/>
<circle cx="472.50" cy="295.05" r="1.9" fill="#E8353A" stroke="none" stroke-width="0.6"/>
<line x1="486.5" y1="292.64500000000004" x2="486.5" y2="297.445" stroke="#E8353A" stroke-width="0.9"/>
<line x1="485.1" y1="292.64500000000004" x2="487.5" y2="292.64500000000004" stroke="#E8353A" stroke-width="0.7"/>
<line x1="485.1" y1="297.445" x2="487.5" y2="297.445" stroke="#E8353A" stroke-width="0.7"/>
<circle cx="486.30" cy="295.05" r="1.9" fill="#E8353A" stroke="none" stroke-width="0.6"/>
<path d="M431.30,272.00L431.30,270.65M431.30,272.00L432.58,271.58M431.30,272.00L432.09,273.09M431.30,272.00L430.51,273.09M431.30,272.00L430.02,271.58" stroke="#000" stroke-width="0.85" stroke-linecap="round" fill="none"/>
<circle cx="431.30" cy="272.00" r="0.75" fill="#000" stroke="none" stroke-width="0.6"/>
<path d="M442.05,265.80L442.05,264.45M442.05,265.80L443.33,265.38M442.05,265.80L442.84,266.89M442.05,265.80L441.26,266.89M442.05,265.80L440.77,265.38" stroke="#000" stroke-width="0.85" stroke-linecap="round" fill="none"/>
<circle cx="442.05" cy="265.80" r="0.75" fill="#000" stroke="none" stroke-width="0.6"/>
<path d="M445.55,265.80L445.55,264.45M445.55,265.80L446.83,265.38M445.55,265.80L446.34,266.89M445.55,265.80L444.76,266.89M445.55,265.80L444.27,265.38" stroke="#000" stroke-width="0.85" stroke-linecap="round" fill="none"/>
<circle cx="445.55" cy="265.80" r="0.75" fill="#000" stroke="none" stroke-width="0.6"/>
<path d="M454.50,256.30L454.50,254.95M454.50,256.30L455.78,255.88M454.50,256.30L455.29,257.39M454.50,256.30L453.71,257.39M454.50,256.30L453.22,255.88" stroke="#000" stroke-width="0.85" stroke-linecap="round" fill="none"/>
<circle cx="454.50" cy="256.30" r="0.75" fill="#000" stroke="none" stroke-width="0.6"/>
<path d="M458.00,256.30L458.00,254.95M458.00,256.30L459.28,255.88M458.00,256.30L458.79,257.39M458.00,256.30L457.21,257.39M458.00,256.30L456.72,255.88" stroke="#000" stroke-width="0.85" stroke-linecap="round" fill="none"/>
<circle cx="458.00" cy="256.30" r="0.75" fill="#000" stroke="none" stroke-width="0.6"/>
<path d="M461.50,256.30L461.50,254.95M461.50,256.30L462.78,255.88M461.50,256.30L462.29,257.39M461.50,256.30L460.71,257.39M461.50,256.30L460.22,255.88" stroke="#000" stroke-width="0.85" stroke-linecap="round" fill="none"/>
<circle cx="461.50" cy="256.30" r="0.75" fill="#000" stroke="none" stroke-width="0.6"/>
<path d="M471.25,251.30L471.25,249.95M471.25,251.30L472.53,250.88M471.25,251.30L472.04,252.39M471.25,251.30L470.46,252.39M471.25,251.30L469.97,250.88" stroke="#000" stroke-width="0.85" stroke-linecap="round" fill="none"/>
<circle cx="471.25" cy="251.30" r="0.75" fill="#000" stroke="none" stroke-width="0.6"/>
<path d="M474.75,251.30L474.75,249.95M474.75,251.30L476.03,250.88M474.75,251.30L475.54,252.39M474.75,251.30L473.96,252.39M474.75,251.30L473.47,250.88" stroke="#000" stroke-width="0.85" stroke-linecap="round" fill="none"/>
<circle cx="474.75" cy="251.30" r="0.75" fill="#000" stroke="none" stroke-width="0.6"/>
<path d="M484.55,246.80L484.55,245.45M484.55,246.80L485.83,246.38M484.55,246.80L485.34,247.89M484.55,246.80L483.76,247.89M484.55,246.80L483.27,246.38" stroke="#000" stroke-width="0.85" stroke-linecap="round" fill="none"/>
<circle cx="484.55" cy="246.80" r="0.75" fill="#000" stroke="none" stroke-width="0.6"/>
<path d="M488.05,246.80L488.05,245.45M488.05,246.80L489.33,246.38M488.05,246.80L488.84,247.89M488.05,246.80L487.26,247.89M488.05,246.80L486.77,246.38" stroke="#000" stroke-width="0.85" stroke-linecap="round" fill="none"/>
<circle cx="488.05" cy="246.80" r="0.75" fill="#000" stroke="none" stroke-width="0.6"/>
<text x="403.2" y="327" font-size="8.7" text-anchor="middle" fill="#000" stroke="#000" stroke-width="0.1">A2</text>
<text x="443.8" y="327" font-size="8.7" text-anchor="middle" fill="#000" stroke="#000" stroke-width="0.1">D2</text>
<text x="457.6" y="327" font-size="8.7" text-anchor="middle" fill="#000" stroke="#000" stroke-width="0.1">D3</text>
<text x="471.3" y="327" font-size="8.7" text-anchor="middle" fill="#000" stroke="#000" stroke-width="0.1">D4</text>
<text x="485.1" y="327" font-size="8.7" text-anchor="middle" fill="#000" stroke="#000" stroke-width="0.1">D5</text>
<text x="422.5" y="322" font-size="8.4" text-anchor="end" fill="#000" stroke="#000" stroke-width="0.1" transform="rotate(-45 422.5 322)">Pre- D1</text>
<text x="436.7" y="322" font-size="8.4" text-anchor="end" fill="#000" stroke="#000" stroke-width="0.1" transform="rotate(-45 436.7 322)">Post-D1</text>
<line x1="431.5" y1="346.3" x2="431.5" y2="336" stroke="#000" stroke-width="0.9"/>
<polygon points="429.09999999999997,338 431.2,334.4 433.3,338" fill="#000"/>
<line x1="445.5" y1="346.3" x2="445.5" y2="336" stroke="#000" stroke-width="0.9"/>
<polygon points="442.9,338 445,334.4 447.1,338" fill="#000"/>
<line x1="458.5" y1="346.3" x2="458.5" y2="336" stroke="#000" stroke-width="0.9"/>
<polygon points="456.7,338 458.8,334.4 460.90000000000003,338" fill="#000"/>
<line x1="472.5" y1="346.3" x2="472.5" y2="336" stroke="#000" stroke-width="0.9"/>
<polygon points="470.4,338 472.5,334.4 474.6,338" fill="#000"/>
<line x1="486.5" y1="346.3" x2="486.5" y2="336" stroke="#000" stroke-width="0.9"/>
<polygon points="484.2,338 486.3,334.4 488.40000000000003,338" fill="#000"/>
<text x="458.2" y="358.7" font-size="11.3" text-anchor="middle" fill="#000" stroke="#000" stroke-width="0.1">+ Cocaine</text>
<text x="577.2" y="208.8" font-size="9.7" text-anchor="middle" fill="#000" stroke="#000" stroke-width="0.1">D5 Locomotor activity</text>
<rect x="543" y="273" width="12.100000000000023" height="40.30000000000001" fill="#D6D6D6" stroke="none" stroke-width="1"/>
<rect x="562" y="294.6" width="12.100000000000023" height="18.69999999999999" fill="#7F7F7F" stroke="none" stroke-width="1"/>
<rect x="581.3" y="255.5" width="12.300000000000068" height="57.80000000000001" fill="#FBDCDC" stroke="none" stroke-width="1"/>
<rect x="600.4" y="295" width="12.300000000000068" height="18.30000000000001" fill="#E8242A" stroke="none" stroke-width="1"/>
<line x1="535.8" y1="313.5" x2="614.5" y2="313.5" stroke="#000" stroke-width="1"/>
<line x1="536.5" y1="313.8" x2="536.5" y2="230.0" stroke="#000" stroke-width="1"/>
<line x1="533.0999999999999" y1="230.5" x2="536.3" y2="230.5" stroke="#000" stroke-width="1"/>
<text x="530.4" y="233.5" font-size="8.55" text-anchor="end" fill="#000" stroke="#000" stroke-width="0.1">200</text>
<line x1="533.0999999999999" y1="251.5" x2="536.3" y2="251.5" stroke="#000" stroke-width="1"/>
<text x="530.4" y="254.2" font-size="8.55" text-anchor="end" fill="#000" stroke="#000" stroke-width="0.1">150</text>
<line x1="533.0999999999999" y1="271.5" x2="536.3" y2="271.5" stroke="#000" stroke-width="1"/>
<text x="530.4" y="274.8" font-size="8.55" text-anchor="end" fill="#000" stroke="#000" stroke-width="0.1">100</text>
<line x1="533.0999999999999" y1="292.5" x2="536.3" y2="292.5" stroke="#000" stroke-width="1"/>
<text x="530.4" y="295.4" font-size="8.55" text-anchor="end" fill="#000" stroke="#000" stroke-width="0.1">50</text>
<line x1="533.0999999999999" y1="313.5" x2="536.3" y2="313.5" stroke="#000" stroke-width="1"/>
<text x="530.4" y="316.3" font-size="8.55" text-anchor="end" fill="#000" stroke="#000" stroke-width="0.1">0</text>
<text x="509.8" y="271.5" font-size="9.0" text-anchor="middle" fill="#000" stroke="#000" stroke-width="0.1" transform="rotate(-90 509.8 271.5)">Travel distance (m)</text>
<line x1="548.8" y1="224.5" x2="606.3" y2="224.5" stroke="#000" stroke-width="1.0"/>
<path d="M575.80,221.60L575.80,220.25M575.80,221.60L577.08,221.18M575.80,221.60L576.59,222.69M575.80,221.60L575.01,222.69M575.80,221.60L574.52,221.18" stroke="#000" stroke-width="0.85" stroke-linecap="round" fill="none"/>
<circle cx="575.80" cy="221.60" r="0.75" fill="#000" stroke="none" stroke-width="0.6"/>
<path d="M579.30,221.60L579.30,220.25M579.30,221.60L580.58,221.18M579.30,221.60L580.09,222.69M579.30,221.60L578.51,222.69M579.30,221.60L578.02,221.18" stroke="#000" stroke-width="0.85" stroke-linecap="round" fill="none"/>
<circle cx="579.30" cy="221.60" r="0.75" fill="#000" stroke="none" stroke-width="0.6"/>
<line x1="548.8" y1="235.5" x2="585.5" y2="235.5" stroke="#000" stroke-width="1.0"/>
<path d="M565.40,232.60L565.40,231.25M565.40,232.60L566.68,232.18M565.40,232.60L566.19,233.69M565.40,232.60L564.61,233.69M565.40,232.60L564.12,232.18" stroke="#000" stroke-width="0.85" stroke-linecap="round" fill="none"/>
<circle cx="565.40" cy="232.60" r="0.75" fill="#000" stroke="none" stroke-width="0.6"/>
<path d="M568.90,232.60L568.90,231.25M568.90,232.60L570.18,232.18M568.90,232.60L569.69,233.69M568.90,232.60L568.11,233.69M568.90,232.60L567.62,232.18" stroke="#000" stroke-width="0.85" stroke-linecap="round" fill="none"/>
<circle cx="568.90" cy="232.60" r="0.75" fill="#000" stroke="none" stroke-width="0.6"/>
<line x1="588.8" y1="235.5" x2="606.3" y2="235.5" stroke="#000" stroke-width="1.0"/>
<path d="M594.05,232.60L594.05,231.25M594.05,232.60L595.33,232.18M594.05,232.60L594.84,233.69M594.05,232.60L593.26,233.69M594.05,232.60L592.77,232.18" stroke="#000" stroke-width="0.85" stroke-linecap="round" fill="none"/>
<circle cx="594.05" cy="232.60" r="0.75" fill="#000" stroke="none" stroke-width="0.6"/>
<path d="M597.55,232.60L597.55,231.25M597.55,232.60L598.83,232.18M597.55,232.60L598.34,233.69M597.55,232.60L596.76,233.69M597.55,232.60L596.27,232.18" stroke="#000" stroke-width="0.85" stroke-linecap="round" fill="none"/>
<circle cx="597.55" cy="232.60" r="0.75" fill="#000" stroke="none" stroke-width="0.6"/>
<path d="M601.05,232.60L601.05,231.25M601.05,232.60L602.33,232.18M601.05,232.60L601.84,233.69M601.05,232.60L600.26,233.69M601.05,232.60L599.77,232.18" stroke="#000" stroke-width="0.85" stroke-linecap="round" fill="none"/>
<circle cx="601.05" cy="232.60" r="0.75" fill="#000" stroke="none" stroke-width="0.6"/>
<line x1="548.8" y1="244.5" x2="566.3" y2="244.5" stroke="#000" stroke-width="1.0"/>
<path d="M555.80,241.60L555.80,240.25M555.80,241.60L557.08,241.18M555.80,241.60L556.59,242.69M555.80,241.60L555.01,242.69M555.80,241.60L554.52,241.18" stroke="#000" stroke-width="0.85" stroke-linecap="round" fill="none"/>
<circle cx="555.80" cy="241.60" r="0.75" fill="#000" stroke="none" stroke-width="0.6"/>
<path d="M559.30,241.60L559.30,240.25M559.30,241.60L560.58,241.18M559.30,241.60L560.09,242.69M559.30,241.60L558.51,242.69M559.30,241.60L558.02,241.18" stroke="#000" stroke-width="0.85" stroke-linecap="round" fill="none"/>
<circle cx="559.30" cy="241.60" r="0.75" fill="#000" stroke="none" stroke-width="0.6"/>
<line x1="569.5" y1="244.5" x2="586.8" y2="244.5" stroke="#000" stroke-width="1.0"/>
<path d="M574.65,241.60L574.65,240.25M574.65,241.60L575.93,241.18M574.65,241.60L575.44,242.69M574.65,241.60L573.86,242.69M574.65,241.60L573.37,241.18" stroke="#000" stroke-width="0.85" stroke-linecap="round" fill="none"/>
<circle cx="574.65" cy="241.60" r="0.75" fill="#000" stroke="none" stroke-width="0.6"/>
<path d="M578.15,241.60L578.15,240.25M578.15,241.60L579.43,241.18M578.15,241.60L578.94,242.69M578.15,241.60L577.36,242.69M578.15,241.60L576.87,241.18" stroke="#000" stroke-width="0.85" stroke-linecap="round" fill="none"/>
<circle cx="578.15" cy="241.60" r="0.75" fill="#000" stroke="none" stroke-width="0.6"/>
<path d="M581.65,241.60L581.65,240.25M581.65,241.60L582.93,241.18M581.65,241.60L582.44,242.69M581.65,241.60L580.86,242.69M581.65,241.60L580.37,241.18" stroke="#000" stroke-width="0.85" stroke-linecap="round" fill="none"/>
<circle cx="581.65" cy="241.60" r="0.75" fill="#000" stroke="none" stroke-width="0.6"/>
<line x1="549.5" y1="270.3" x2="549.5" y2="276.09999999999997" stroke="#111" stroke-width="0.9"/>
<line x1="546.9" y1="270.5" x2="551.3000000000001" y2="270.5" stroke="#111" stroke-width="0.9"/>
<line x1="546.9" y1="276.5" x2="551.3000000000001" y2="276.5" stroke="#111" stroke-width="0.9"/>
<circle cx="549.10" cy="269.50" r="1.2" fill="#111" stroke="none" stroke-width="0.6"/>
<circle cx="549.10" cy="273.30" r="1.2" fill="#111" stroke="none" stroke-width="0.6"/>
<circle cx="549.10" cy="277.20" r="1.2" fill="#111" stroke="none" stroke-width="0.6"/>
<line x1="568.5" y1="293.1" x2="568.5" y2="296.1" stroke="#111" stroke-width="0.9"/>
<line x1="565.9" y1="293.5" x2="570.3000000000001" y2="293.5" stroke="#111" stroke-width="0.9"/>
<line x1="565.9" y1="296.5" x2="570.3000000000001" y2="296.5" stroke="#111" stroke-width="0.9"/>
<circle cx="565.80" cy="292.50" r="1.2" fill="#111" stroke="none" stroke-width="0.6"/>
<circle cx="570.40" cy="292.50" r="1.2" fill="#111" stroke="none" stroke-width="0.6"/>
<circle cx="568.10" cy="295.00" r="1.2" fill="#111" stroke="none" stroke-width="0.6"/>
<circle cx="568.10" cy="297.20" r="1.2" fill="#111" stroke="none" stroke-width="0.6"/>
<line x1="587.5" y1="252.1" x2="587.5" y2="258.3" stroke="#111" stroke-width="0.9"/>
<line x1="585.3" y1="252.5" x2="589.7" y2="252.5" stroke="#111" stroke-width="0.9"/>
<line x1="585.3" y1="258.5" x2="589.7" y2="258.5" stroke="#111" stroke-width="0.9"/>
<circle cx="587.50" cy="248.00" r="1.2" fill="#111" stroke="none" stroke-width="0.6"/>
<circle cx="587.50" cy="255.50" r="1.2" fill="#111" stroke="none" stroke-width="0.6"/>
<circle cx="587.50" cy="258.70" r="1.2" fill="#111" stroke="none" stroke-width="0.6"/>
<circle cx="587.50" cy="263.00" r="1.2" fill="#111" stroke="none" stroke-width="0.6"/>
<line x1="606.5" y1="292.40000000000003" x2="606.5" y2="297.2" stroke="#111" stroke-width="0.9"/>
<line x1="604.3" y1="292.5" x2="608.7" y2="292.5" stroke="#111" stroke-width="0.9"/>
<line x1="604.3" y1="297.5" x2="608.7" y2="297.5" stroke="#111" stroke-width="0.9"/>
<circle cx="606.50" cy="290.00" r="1.2" fill="#111" stroke="none" stroke-width="0.6"/>
<circle cx="605.50" cy="295.30" r="1.2" fill="#111" stroke="none" stroke-width="0.6"/>
<circle cx="607.50" cy="295.30" r="1.2" fill="#111" stroke="none" stroke-width="0.6"/>
<circle cx="606.50" cy="298.00" r="1.2" fill="#111" stroke="none" stroke-width="0.6"/>
<text x="546.8" y="326.9" font-size="11.8" text-anchor="middle" fill="#000" stroke="#000" stroke-width="0.1">PI</text>
<text x="566.9" y="326.9" font-size="11.8" text-anchor="middle" fill="#000" stroke="#000" stroke-width="0.1">PA</text>
<text x="586.6" y="327.29999999999995" font-size="11.8" text-anchor="middle" fill="#000" stroke="#000" stroke-width="0.1">PI</text>
<text x="606.4" y="327.29999999999995" font-size="11.8" text-anchor="middle" fill="#000" stroke="#000" stroke-width="0.1">PA</text>
<line x1="540.5" y1="331.5" x2="575" y2="331.5" stroke="#000" stroke-width="0.9"/>
<rect x="580" y="331.1" width="34.5" height="1.6" fill="#858585" stroke="none" stroke-width="1"/>
<text x="556.9" y="342" font-size="9.6" text-anchor="middle" fill="#000" stroke="#000" stroke-width="0.1">Cont</text>
<text x="596.4" y="342" font-size="9.7" text-anchor="middle" fill="#000" stroke="#000" stroke-width="0.1">cKD</text>
<text x="577.6" y="354.8" font-size="8.75" text-anchor="middle" fill="#000" stroke="#000" stroke-width="0.1">+ cocaine</text>
</g></svg></body></html>
